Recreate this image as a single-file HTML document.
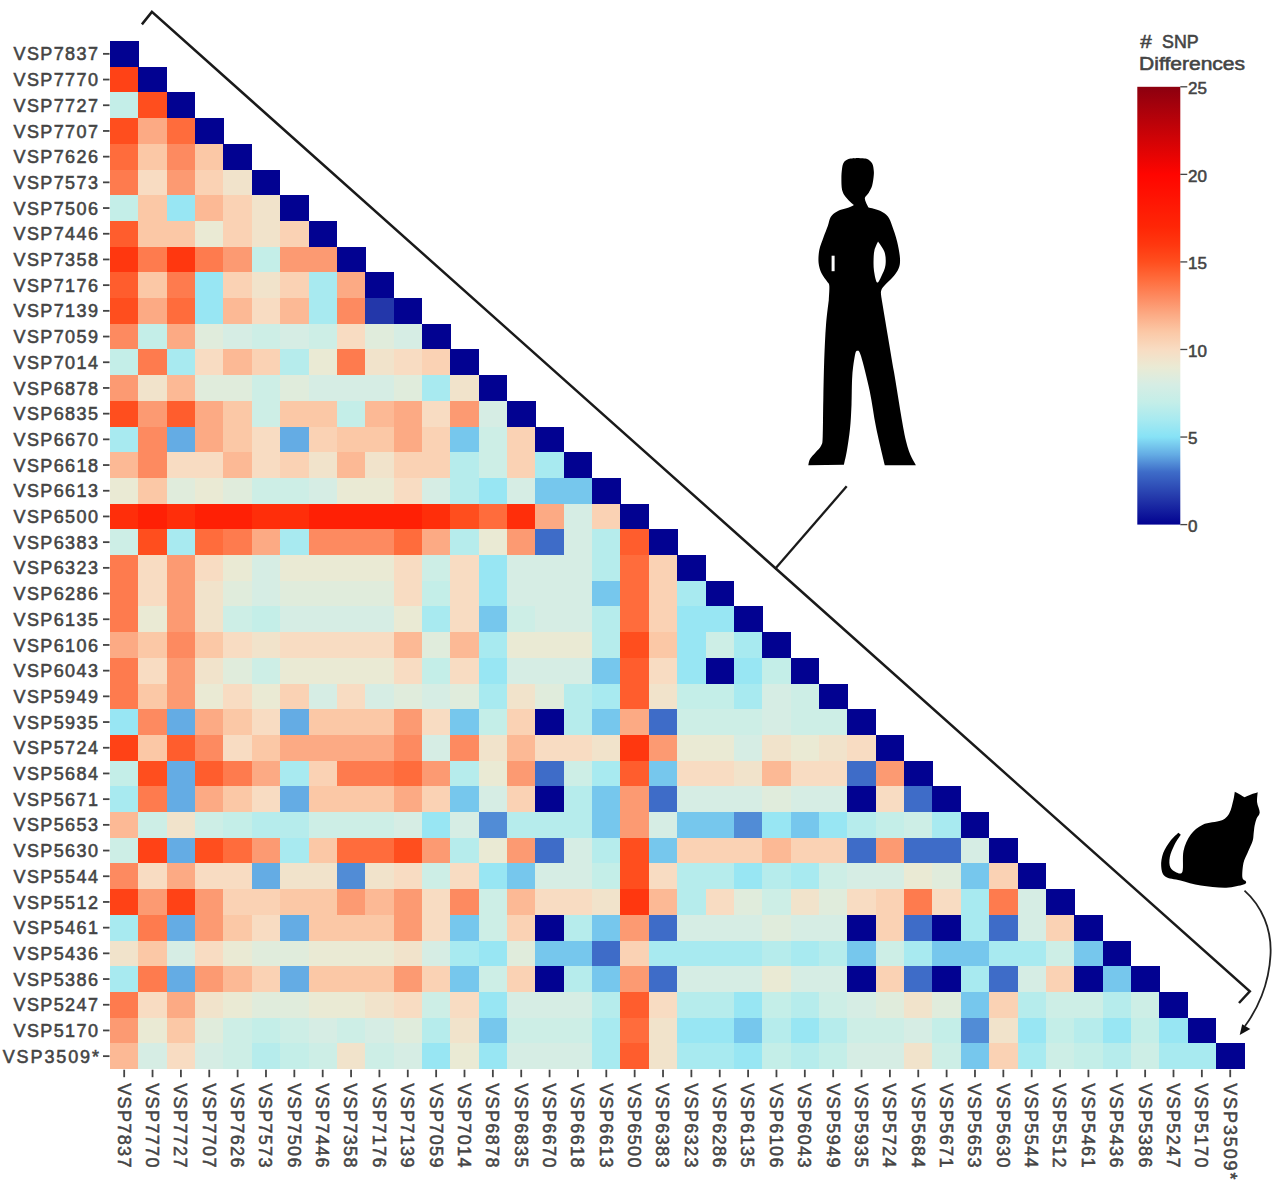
<!DOCTYPE html>
<html><head><meta charset="utf-8"><style>
html,body{margin:0;padding:0;background:#fff;width:1280px;height:1188px;overflow:hidden}
svg{display:block}
text{font-family:"Liberation Sans",sans-serif;fill:#444;stroke:#444;stroke-width:0.55px}
</style></head><body>
<svg width="1280" height="1188" viewBox="0 0 1280 1188">
<defs><linearGradient id="cb" x1="0" y1="1" x2="0" y2="0">
<stop offset="0.0000" stop-color="#020291"/>
<stop offset="0.0600" stop-color="#2337aa"/>
<stop offset="0.1200" stop-color="#3e6cc8"/>
<stop offset="0.1600" stop-color="#64ace4"/>
<stop offset="0.2000" stop-color="#87e2f6"/>
<stop offset="0.2400" stop-color="#a8eaf0"/>
<stop offset="0.2800" stop-color="#c4eee8"/>
<stop offset="0.3200" stop-color="#d6ede4"/>
<stop offset="0.3600" stop-color="#eaead4"/>
<stop offset="0.4000" stop-color="#f8dcc2"/>
<stop offset="0.4400" stop-color="#fbc8a6"/>
<stop offset="0.4800" stop-color="#fcaa84"/>
<stop offset="0.5200" stop-color="#fd8a60"/>
<stop offset="0.5600" stop-color="#ff6c3c"/>
<stop offset="0.6000" stop-color="#ff4e1e"/>
<stop offset="0.6400" stop-color="#ff370f"/>
<stop offset="0.6800" stop-color="#ff2606"/>
<stop offset="0.8000" stop-color="#ff0500"/>
<stop offset="1.0000" stop-color="#8c000f"/>
</linearGradient></defs>
<g shape-rendering="crispEdges">
<rect x="110.00" y="41.00" width="28.66" height="26.00" fill="#020291"/>
<rect x="110.00" y="66.70" width="28.66" height="26.00" fill="#ff4216"/>
<rect x="138.36" y="66.70" width="28.66" height="26.00" fill="#020291"/>
<rect x="110.00" y="92.40" width="28.66" height="26.00" fill="#c4eee8"/>
<rect x="138.36" y="92.40" width="28.66" height="26.00" fill="#ff4e1e"/>
<rect x="166.72" y="92.40" width="28.66" height="26.00" fill="#020291"/>
<rect x="110.00" y="118.10" width="28.66" height="26.00" fill="#ff4e1e"/>
<rect x="138.36" y="118.10" width="28.66" height="26.00" fill="#fcaa84"/>
<rect x="166.72" y="118.10" width="28.66" height="26.00" fill="#ff6c3c"/>
<rect x="195.08" y="118.10" width="28.66" height="26.00" fill="#020291"/>
<rect x="110.00" y="143.80" width="28.66" height="26.00" fill="#ff6c3c"/>
<rect x="138.36" y="143.80" width="28.66" height="26.00" fill="#fbc8a6"/>
<rect x="166.72" y="143.80" width="28.66" height="26.00" fill="#fd8a60"/>
<rect x="195.08" y="143.80" width="28.66" height="26.00" fill="#fbc8a6"/>
<rect x="223.44" y="143.80" width="28.66" height="26.00" fill="#020291"/>
<rect x="110.00" y="169.50" width="28.66" height="26.00" fill="#fe7b4e"/>
<rect x="138.36" y="169.50" width="28.66" height="26.00" fill="#f8dcc2"/>
<rect x="166.72" y="169.50" width="28.66" height="26.00" fill="#fc9a72"/>
<rect x="195.08" y="169.50" width="28.66" height="26.00" fill="#fad2b4"/>
<rect x="223.44" y="169.50" width="28.66" height="26.00" fill="#f1e3cb"/>
<rect x="251.80" y="169.50" width="28.66" height="26.00" fill="#020291"/>
<rect x="110.00" y="195.20" width="28.66" height="26.00" fill="#c4eee8"/>
<rect x="138.36" y="195.20" width="28.66" height="26.00" fill="#fbc8a6"/>
<rect x="166.72" y="195.20" width="28.66" height="26.00" fill="#98e6f3"/>
<rect x="195.08" y="195.20" width="28.66" height="26.00" fill="#fcb995"/>
<rect x="223.44" y="195.20" width="28.66" height="26.00" fill="#fad2b4"/>
<rect x="251.80" y="195.20" width="28.66" height="26.00" fill="#f1e3cb"/>
<rect x="280.16" y="195.20" width="28.66" height="26.00" fill="#020291"/>
<rect x="110.00" y="220.90" width="28.66" height="26.00" fill="#ff5d2d"/>
<rect x="138.36" y="220.90" width="28.66" height="26.00" fill="#fbc8a6"/>
<rect x="166.72" y="220.90" width="28.66" height="26.00" fill="#fbc8a6"/>
<rect x="195.08" y="220.90" width="28.66" height="26.00" fill="#eaead4"/>
<rect x="223.44" y="220.90" width="28.66" height="26.00" fill="#fad2b4"/>
<rect x="251.80" y="220.90" width="28.66" height="26.00" fill="#f1e3cb"/>
<rect x="280.16" y="220.90" width="28.66" height="26.00" fill="#fad2b4"/>
<rect x="308.52" y="220.90" width="28.66" height="26.00" fill="#020291"/>
<rect x="110.00" y="246.60" width="28.66" height="26.00" fill="#ff370f"/>
<rect x="138.36" y="246.60" width="28.66" height="26.00" fill="#fe7b4e"/>
<rect x="166.72" y="246.60" width="28.66" height="26.00" fill="#ff370f"/>
<rect x="195.08" y="246.60" width="28.66" height="26.00" fill="#fe7b4e"/>
<rect x="223.44" y="246.60" width="28.66" height="26.00" fill="#fc9a72"/>
<rect x="251.80" y="246.60" width="28.66" height="26.00" fill="#c4eee8"/>
<rect x="280.16" y="246.60" width="28.66" height="26.00" fill="#fc9a72"/>
<rect x="308.52" y="246.60" width="28.66" height="26.00" fill="#fc9a72"/>
<rect x="336.88" y="246.60" width="28.66" height="26.00" fill="#020291"/>
<rect x="110.00" y="272.30" width="28.66" height="26.00" fill="#ff5d2d"/>
<rect x="138.36" y="272.30" width="28.66" height="26.00" fill="#fbc8a6"/>
<rect x="166.72" y="272.30" width="28.66" height="26.00" fill="#fe7b4e"/>
<rect x="195.08" y="272.30" width="28.66" height="26.00" fill="#98e6f3"/>
<rect x="223.44" y="272.30" width="28.66" height="26.00" fill="#fad2b4"/>
<rect x="251.80" y="272.30" width="28.66" height="26.00" fill="#f1e3cb"/>
<rect x="280.16" y="272.30" width="28.66" height="26.00" fill="#fad2b4"/>
<rect x="308.52" y="272.30" width="28.66" height="26.00" fill="#a8eaf0"/>
<rect x="336.88" y="272.30" width="28.66" height="26.00" fill="#fcaa84"/>
<rect x="365.24" y="272.30" width="28.66" height="26.00" fill="#020291"/>
<rect x="110.00" y="298.00" width="28.66" height="26.00" fill="#ff4e1e"/>
<rect x="138.36" y="298.00" width="28.66" height="26.00" fill="#fcaa84"/>
<rect x="166.72" y="298.00" width="28.66" height="26.00" fill="#ff6c3c"/>
<rect x="195.08" y="298.00" width="28.66" height="26.00" fill="#98e6f3"/>
<rect x="223.44" y="298.00" width="28.66" height="26.00" fill="#fcb995"/>
<rect x="251.80" y="298.00" width="28.66" height="26.00" fill="#f8dcc2"/>
<rect x="280.16" y="298.00" width="28.66" height="26.00" fill="#fcb995"/>
<rect x="308.52" y="298.00" width="28.66" height="26.00" fill="#a8eaf0"/>
<rect x="336.88" y="298.00" width="28.66" height="26.00" fill="#fd8a60"/>
<rect x="365.24" y="298.00" width="28.66" height="26.00" fill="#2337aa"/>
<rect x="393.60" y="298.00" width="28.66" height="26.00" fill="#020291"/>
<rect x="110.00" y="323.70" width="28.66" height="26.00" fill="#fd8a60"/>
<rect x="138.36" y="323.70" width="28.66" height="26.00" fill="#c4eee8"/>
<rect x="166.72" y="323.70" width="28.66" height="26.00" fill="#fcaa84"/>
<rect x="195.08" y="323.70" width="28.66" height="26.00" fill="#e0ecdc"/>
<rect x="223.44" y="323.70" width="28.66" height="26.00" fill="#d6ede4"/>
<rect x="251.80" y="323.70" width="28.66" height="26.00" fill="#cdeee6"/>
<rect x="280.16" y="323.70" width="28.66" height="26.00" fill="#d6ede4"/>
<rect x="308.52" y="323.70" width="28.66" height="26.00" fill="#cdeee6"/>
<rect x="336.88" y="323.70" width="28.66" height="26.00" fill="#f8dcc2"/>
<rect x="365.24" y="323.70" width="28.66" height="26.00" fill="#e0ecdc"/>
<rect x="393.60" y="323.70" width="28.66" height="26.00" fill="#d6ede4"/>
<rect x="421.96" y="323.70" width="28.66" height="26.00" fill="#020291"/>
<rect x="110.00" y="349.40" width="28.66" height="26.00" fill="#c4eee8"/>
<rect x="138.36" y="349.40" width="28.66" height="26.00" fill="#fe7b4e"/>
<rect x="166.72" y="349.40" width="28.66" height="26.00" fill="#a8eaf0"/>
<rect x="195.08" y="349.40" width="28.66" height="26.00" fill="#f8dcc2"/>
<rect x="223.44" y="349.40" width="28.66" height="26.00" fill="#fcb995"/>
<rect x="251.80" y="349.40" width="28.66" height="26.00" fill="#fad2b4"/>
<rect x="280.16" y="349.40" width="28.66" height="26.00" fill="#b6ecec"/>
<rect x="308.52" y="349.40" width="28.66" height="26.00" fill="#eaead4"/>
<rect x="336.88" y="349.40" width="28.66" height="26.00" fill="#fe7b4e"/>
<rect x="365.24" y="349.40" width="28.66" height="26.00" fill="#f1e3cb"/>
<rect x="393.60" y="349.40" width="28.66" height="26.00" fill="#f8dcc2"/>
<rect x="421.96" y="349.40" width="28.66" height="26.00" fill="#fad2b4"/>
<rect x="450.32" y="349.40" width="28.66" height="26.00" fill="#020291"/>
<rect x="110.00" y="375.10" width="28.66" height="26.00" fill="#fc9a72"/>
<rect x="138.36" y="375.10" width="28.66" height="26.00" fill="#f1e3cb"/>
<rect x="166.72" y="375.10" width="28.66" height="26.00" fill="#fcb995"/>
<rect x="195.08" y="375.10" width="28.66" height="26.00" fill="#e0ecdc"/>
<rect x="223.44" y="375.10" width="28.66" height="26.00" fill="#e0ecdc"/>
<rect x="251.80" y="375.10" width="28.66" height="26.00" fill="#cdeee6"/>
<rect x="280.16" y="375.10" width="28.66" height="26.00" fill="#e0ecdc"/>
<rect x="308.52" y="375.10" width="28.66" height="26.00" fill="#d6ede4"/>
<rect x="336.88" y="375.10" width="28.66" height="26.00" fill="#d6ede4"/>
<rect x="365.24" y="375.10" width="28.66" height="26.00" fill="#d6ede4"/>
<rect x="393.60" y="375.10" width="28.66" height="26.00" fill="#e0ecdc"/>
<rect x="421.96" y="375.10" width="28.66" height="26.00" fill="#a8eaf0"/>
<rect x="450.32" y="375.10" width="28.66" height="26.00" fill="#f1e3cb"/>
<rect x="478.68" y="375.10" width="28.66" height="26.00" fill="#020291"/>
<rect x="110.00" y="400.80" width="28.66" height="26.00" fill="#ff4e1e"/>
<rect x="138.36" y="400.80" width="28.66" height="26.00" fill="#fc9a72"/>
<rect x="166.72" y="400.80" width="28.66" height="26.00" fill="#ff5d2d"/>
<rect x="195.08" y="400.80" width="28.66" height="26.00" fill="#fcaa84"/>
<rect x="223.44" y="400.80" width="28.66" height="26.00" fill="#fbc8a6"/>
<rect x="251.80" y="400.80" width="28.66" height="26.00" fill="#cdeee6"/>
<rect x="280.16" y="400.80" width="28.66" height="26.00" fill="#fbc8a6"/>
<rect x="308.52" y="400.80" width="28.66" height="26.00" fill="#fbc8a6"/>
<rect x="336.88" y="400.80" width="28.66" height="26.00" fill="#c4eee8"/>
<rect x="365.24" y="400.80" width="28.66" height="26.00" fill="#fcb995"/>
<rect x="393.60" y="400.80" width="28.66" height="26.00" fill="#fcaa84"/>
<rect x="421.96" y="400.80" width="28.66" height="26.00" fill="#f8dcc2"/>
<rect x="450.32" y="400.80" width="28.66" height="26.00" fill="#fc9a72"/>
<rect x="478.68" y="400.80" width="28.66" height="26.00" fill="#d6ede4"/>
<rect x="507.04" y="400.80" width="28.66" height="26.00" fill="#020291"/>
<rect x="110.00" y="426.50" width="28.66" height="26.00" fill="#a8eaf0"/>
<rect x="138.36" y="426.50" width="28.66" height="26.00" fill="#fd8a60"/>
<rect x="166.72" y="426.50" width="28.66" height="26.00" fill="#64ace4"/>
<rect x="195.08" y="426.50" width="28.66" height="26.00" fill="#fcaa84"/>
<rect x="223.44" y="426.50" width="28.66" height="26.00" fill="#fbc8a6"/>
<rect x="251.80" y="426.50" width="28.66" height="26.00" fill="#f8dcc2"/>
<rect x="280.16" y="426.50" width="28.66" height="26.00" fill="#64ace4"/>
<rect x="308.52" y="426.50" width="28.66" height="26.00" fill="#fad2b4"/>
<rect x="336.88" y="426.50" width="28.66" height="26.00" fill="#fbc8a6"/>
<rect x="365.24" y="426.50" width="28.66" height="26.00" fill="#fbc8a6"/>
<rect x="393.60" y="426.50" width="28.66" height="26.00" fill="#fcaa84"/>
<rect x="421.96" y="426.50" width="28.66" height="26.00" fill="#fad2b4"/>
<rect x="450.32" y="426.50" width="28.66" height="26.00" fill="#76c7ed"/>
<rect x="478.68" y="426.50" width="28.66" height="26.00" fill="#cdeee6"/>
<rect x="507.04" y="426.50" width="28.66" height="26.00" fill="#fad2b4"/>
<rect x="535.40" y="426.50" width="28.66" height="26.00" fill="#020291"/>
<rect x="110.00" y="452.20" width="28.66" height="26.00" fill="#fcb995"/>
<rect x="138.36" y="452.20" width="28.66" height="26.00" fill="#fd8a60"/>
<rect x="166.72" y="452.20" width="28.66" height="26.00" fill="#f8dcc2"/>
<rect x="195.08" y="452.20" width="28.66" height="26.00" fill="#f8dcc2"/>
<rect x="223.44" y="452.20" width="28.66" height="26.00" fill="#fcb995"/>
<rect x="251.80" y="452.20" width="28.66" height="26.00" fill="#f8dcc2"/>
<rect x="280.16" y="452.20" width="28.66" height="26.00" fill="#fad2b4"/>
<rect x="308.52" y="452.20" width="28.66" height="26.00" fill="#f1e3cb"/>
<rect x="336.88" y="452.20" width="28.66" height="26.00" fill="#fcb995"/>
<rect x="365.24" y="452.20" width="28.66" height="26.00" fill="#f1e3cb"/>
<rect x="393.60" y="452.20" width="28.66" height="26.00" fill="#fad2b4"/>
<rect x="421.96" y="452.20" width="28.66" height="26.00" fill="#fad2b4"/>
<rect x="450.32" y="452.20" width="28.66" height="26.00" fill="#b6ecec"/>
<rect x="478.68" y="452.20" width="28.66" height="26.00" fill="#cdeee6"/>
<rect x="507.04" y="452.20" width="28.66" height="26.00" fill="#fad2b4"/>
<rect x="535.40" y="452.20" width="28.66" height="26.00" fill="#a8eaf0"/>
<rect x="563.76" y="452.20" width="28.66" height="26.00" fill="#020291"/>
<rect x="110.00" y="477.90" width="28.66" height="26.00" fill="#eaead4"/>
<rect x="138.36" y="477.90" width="28.66" height="26.00" fill="#fbc8a6"/>
<rect x="166.72" y="477.90" width="28.66" height="26.00" fill="#e0ecdc"/>
<rect x="195.08" y="477.90" width="28.66" height="26.00" fill="#eaead4"/>
<rect x="223.44" y="477.90" width="28.66" height="26.00" fill="#e0ecdc"/>
<rect x="251.80" y="477.90" width="28.66" height="26.00" fill="#cdeee6"/>
<rect x="280.16" y="477.90" width="28.66" height="26.00" fill="#cdeee6"/>
<rect x="308.52" y="477.90" width="28.66" height="26.00" fill="#d6ede4"/>
<rect x="336.88" y="477.90" width="28.66" height="26.00" fill="#eaead4"/>
<rect x="365.24" y="477.90" width="28.66" height="26.00" fill="#eaead4"/>
<rect x="393.60" y="477.90" width="28.66" height="26.00" fill="#f8dcc2"/>
<rect x="421.96" y="477.90" width="28.66" height="26.00" fill="#d6ede4"/>
<rect x="450.32" y="477.90" width="28.66" height="26.00" fill="#b6ecec"/>
<rect x="478.68" y="477.90" width="28.66" height="26.00" fill="#98e6f3"/>
<rect x="507.04" y="477.90" width="28.66" height="26.00" fill="#d6ede4"/>
<rect x="535.40" y="477.90" width="28.66" height="26.00" fill="#76c7ed"/>
<rect x="563.76" y="477.90" width="28.66" height="26.00" fill="#76c7ed"/>
<rect x="592.12" y="477.90" width="28.66" height="26.00" fill="#020291"/>
<rect x="110.00" y="503.60" width="28.66" height="26.00" fill="#ff2e0a"/>
<rect x="138.36" y="503.60" width="28.66" height="26.00" fill="#ff2005"/>
<rect x="166.72" y="503.60" width="28.66" height="26.00" fill="#ff2e0a"/>
<rect x="195.08" y="503.60" width="28.66" height="26.00" fill="#ff2005"/>
<rect x="223.44" y="503.60" width="28.66" height="26.00" fill="#ff2005"/>
<rect x="251.80" y="503.60" width="28.66" height="26.00" fill="#ff2e0a"/>
<rect x="280.16" y="503.60" width="28.66" height="26.00" fill="#ff2e0a"/>
<rect x="308.52" y="503.60" width="28.66" height="26.00" fill="#ff2005"/>
<rect x="336.88" y="503.60" width="28.66" height="26.00" fill="#ff2005"/>
<rect x="365.24" y="503.60" width="28.66" height="26.00" fill="#ff2005"/>
<rect x="393.60" y="503.60" width="28.66" height="26.00" fill="#ff2005"/>
<rect x="421.96" y="503.60" width="28.66" height="26.00" fill="#ff2e0a"/>
<rect x="450.32" y="503.60" width="28.66" height="26.00" fill="#ff4e1e"/>
<rect x="478.68" y="503.60" width="28.66" height="26.00" fill="#ff6c3c"/>
<rect x="507.04" y="503.60" width="28.66" height="26.00" fill="#ff2e0a"/>
<rect x="535.40" y="503.60" width="28.66" height="26.00" fill="#fcaa84"/>
<rect x="563.76" y="503.60" width="28.66" height="26.00" fill="#d6ede4"/>
<rect x="592.12" y="503.60" width="28.66" height="26.00" fill="#fad2b4"/>
<rect x="620.48" y="503.60" width="28.66" height="26.00" fill="#020291"/>
<rect x="110.00" y="529.30" width="28.66" height="26.00" fill="#cdeee6"/>
<rect x="138.36" y="529.30" width="28.66" height="26.00" fill="#ff4e1e"/>
<rect x="166.72" y="529.30" width="28.66" height="26.00" fill="#a8eaf0"/>
<rect x="195.08" y="529.30" width="28.66" height="26.00" fill="#ff6c3c"/>
<rect x="223.44" y="529.30" width="28.66" height="26.00" fill="#fe7b4e"/>
<rect x="251.80" y="529.30" width="28.66" height="26.00" fill="#fcaa84"/>
<rect x="280.16" y="529.30" width="28.66" height="26.00" fill="#a8eaf0"/>
<rect x="308.52" y="529.30" width="28.66" height="26.00" fill="#fd8a60"/>
<rect x="336.88" y="529.30" width="28.66" height="26.00" fill="#fd8a60"/>
<rect x="365.24" y="529.30" width="28.66" height="26.00" fill="#fd8a60"/>
<rect x="393.60" y="529.30" width="28.66" height="26.00" fill="#ff6c3c"/>
<rect x="421.96" y="529.30" width="28.66" height="26.00" fill="#fcaa84"/>
<rect x="450.32" y="529.30" width="28.66" height="26.00" fill="#b6ecec"/>
<rect x="478.68" y="529.30" width="28.66" height="26.00" fill="#eaead4"/>
<rect x="507.04" y="529.30" width="28.66" height="26.00" fill="#fc9a72"/>
<rect x="535.40" y="529.30" width="28.66" height="26.00" fill="#3e6cc8"/>
<rect x="563.76" y="529.30" width="28.66" height="26.00" fill="#d6ede4"/>
<rect x="592.12" y="529.30" width="28.66" height="26.00" fill="#b6ecec"/>
<rect x="620.48" y="529.30" width="28.66" height="26.00" fill="#ff5d2d"/>
<rect x="648.84" y="529.30" width="28.66" height="26.00" fill="#020291"/>
<rect x="110.00" y="555.00" width="28.66" height="26.00" fill="#fe7b4e"/>
<rect x="138.36" y="555.00" width="28.66" height="26.00" fill="#f8dcc2"/>
<rect x="166.72" y="555.00" width="28.66" height="26.00" fill="#fc9a72"/>
<rect x="195.08" y="555.00" width="28.66" height="26.00" fill="#f8dcc2"/>
<rect x="223.44" y="555.00" width="28.66" height="26.00" fill="#eaead4"/>
<rect x="251.80" y="555.00" width="28.66" height="26.00" fill="#d6ede4"/>
<rect x="280.16" y="555.00" width="28.66" height="26.00" fill="#eaead4"/>
<rect x="308.52" y="555.00" width="28.66" height="26.00" fill="#eaead4"/>
<rect x="336.88" y="555.00" width="28.66" height="26.00" fill="#eaead4"/>
<rect x="365.24" y="555.00" width="28.66" height="26.00" fill="#eaead4"/>
<rect x="393.60" y="555.00" width="28.66" height="26.00" fill="#f8dcc2"/>
<rect x="421.96" y="555.00" width="28.66" height="26.00" fill="#cdeee6"/>
<rect x="450.32" y="555.00" width="28.66" height="26.00" fill="#f8dcc2"/>
<rect x="478.68" y="555.00" width="28.66" height="26.00" fill="#98e6f3"/>
<rect x="507.04" y="555.00" width="28.66" height="26.00" fill="#d6ede4"/>
<rect x="535.40" y="555.00" width="28.66" height="26.00" fill="#d6ede4"/>
<rect x="563.76" y="555.00" width="28.66" height="26.00" fill="#d6ede4"/>
<rect x="592.12" y="555.00" width="28.66" height="26.00" fill="#b6ecec"/>
<rect x="620.48" y="555.00" width="28.66" height="26.00" fill="#ff6c3c"/>
<rect x="648.84" y="555.00" width="28.66" height="26.00" fill="#fad2b4"/>
<rect x="677.20" y="555.00" width="28.66" height="26.00" fill="#020291"/>
<rect x="110.00" y="580.70" width="28.66" height="26.00" fill="#fe7b4e"/>
<rect x="138.36" y="580.70" width="28.66" height="26.00" fill="#f8dcc2"/>
<rect x="166.72" y="580.70" width="28.66" height="26.00" fill="#fc9a72"/>
<rect x="195.08" y="580.70" width="28.66" height="26.00" fill="#f1e3cb"/>
<rect x="223.44" y="580.70" width="28.66" height="26.00" fill="#e0ecdc"/>
<rect x="251.80" y="580.70" width="28.66" height="26.00" fill="#d6ede4"/>
<rect x="280.16" y="580.70" width="28.66" height="26.00" fill="#e0ecdc"/>
<rect x="308.52" y="580.70" width="28.66" height="26.00" fill="#e0ecdc"/>
<rect x="336.88" y="580.70" width="28.66" height="26.00" fill="#e0ecdc"/>
<rect x="365.24" y="580.70" width="28.66" height="26.00" fill="#e0ecdc"/>
<rect x="393.60" y="580.70" width="28.66" height="26.00" fill="#f8dcc2"/>
<rect x="421.96" y="580.70" width="28.66" height="26.00" fill="#c4eee8"/>
<rect x="450.32" y="580.70" width="28.66" height="26.00" fill="#f8dcc2"/>
<rect x="478.68" y="580.70" width="28.66" height="26.00" fill="#98e6f3"/>
<rect x="507.04" y="580.70" width="28.66" height="26.00" fill="#d6ede4"/>
<rect x="535.40" y="580.70" width="28.66" height="26.00" fill="#d6ede4"/>
<rect x="563.76" y="580.70" width="28.66" height="26.00" fill="#d6ede4"/>
<rect x="592.12" y="580.70" width="28.66" height="26.00" fill="#76c7ed"/>
<rect x="620.48" y="580.70" width="28.66" height="26.00" fill="#ff6c3c"/>
<rect x="648.84" y="580.70" width="28.66" height="26.00" fill="#fad2b4"/>
<rect x="677.20" y="580.70" width="28.66" height="26.00" fill="#a8eaf0"/>
<rect x="705.56" y="580.70" width="28.66" height="26.00" fill="#020291"/>
<rect x="110.00" y="606.40" width="28.66" height="26.00" fill="#fe7b4e"/>
<rect x="138.36" y="606.40" width="28.66" height="26.00" fill="#eaead4"/>
<rect x="166.72" y="606.40" width="28.66" height="26.00" fill="#fc9a72"/>
<rect x="195.08" y="606.40" width="28.66" height="26.00" fill="#f1e3cb"/>
<rect x="223.44" y="606.40" width="28.66" height="26.00" fill="#cdeee6"/>
<rect x="251.80" y="606.40" width="28.66" height="26.00" fill="#c4eee8"/>
<rect x="280.16" y="606.40" width="28.66" height="26.00" fill="#d6ede4"/>
<rect x="308.52" y="606.40" width="28.66" height="26.00" fill="#d6ede4"/>
<rect x="336.88" y="606.40" width="28.66" height="26.00" fill="#d6ede4"/>
<rect x="365.24" y="606.40" width="28.66" height="26.00" fill="#d6ede4"/>
<rect x="393.60" y="606.40" width="28.66" height="26.00" fill="#eaead4"/>
<rect x="421.96" y="606.40" width="28.66" height="26.00" fill="#a8eaf0"/>
<rect x="450.32" y="606.40" width="28.66" height="26.00" fill="#f8dcc2"/>
<rect x="478.68" y="606.40" width="28.66" height="26.00" fill="#76c7ed"/>
<rect x="507.04" y="606.40" width="28.66" height="26.00" fill="#cdeee6"/>
<rect x="535.40" y="606.40" width="28.66" height="26.00" fill="#d6ede4"/>
<rect x="563.76" y="606.40" width="28.66" height="26.00" fill="#d6ede4"/>
<rect x="592.12" y="606.40" width="28.66" height="26.00" fill="#b6ecec"/>
<rect x="620.48" y="606.40" width="28.66" height="26.00" fill="#ff6c3c"/>
<rect x="648.84" y="606.40" width="28.66" height="26.00" fill="#fad2b4"/>
<rect x="677.20" y="606.40" width="28.66" height="26.00" fill="#98e6f3"/>
<rect x="705.56" y="606.40" width="28.66" height="26.00" fill="#98e6f3"/>
<rect x="733.92" y="606.40" width="28.66" height="26.00" fill="#020291"/>
<rect x="110.00" y="632.10" width="28.66" height="26.00" fill="#fcaa84"/>
<rect x="138.36" y="632.10" width="28.66" height="26.00" fill="#fbc8a6"/>
<rect x="166.72" y="632.10" width="28.66" height="26.00" fill="#fd8a60"/>
<rect x="195.08" y="632.10" width="28.66" height="26.00" fill="#fbc8a6"/>
<rect x="223.44" y="632.10" width="28.66" height="26.00" fill="#f8dcc2"/>
<rect x="251.80" y="632.10" width="28.66" height="26.00" fill="#f1e3cb"/>
<rect x="280.16" y="632.10" width="28.66" height="26.00" fill="#f8dcc2"/>
<rect x="308.52" y="632.10" width="28.66" height="26.00" fill="#f8dcc2"/>
<rect x="336.88" y="632.10" width="28.66" height="26.00" fill="#f8dcc2"/>
<rect x="365.24" y="632.10" width="28.66" height="26.00" fill="#f8dcc2"/>
<rect x="393.60" y="632.10" width="28.66" height="26.00" fill="#fcb995"/>
<rect x="421.96" y="632.10" width="28.66" height="26.00" fill="#e0ecdc"/>
<rect x="450.32" y="632.10" width="28.66" height="26.00" fill="#fcb995"/>
<rect x="478.68" y="632.10" width="28.66" height="26.00" fill="#a8eaf0"/>
<rect x="507.04" y="632.10" width="28.66" height="26.00" fill="#eaead4"/>
<rect x="535.40" y="632.10" width="28.66" height="26.00" fill="#eaead4"/>
<rect x="563.76" y="632.10" width="28.66" height="26.00" fill="#eaead4"/>
<rect x="592.12" y="632.10" width="28.66" height="26.00" fill="#b6ecec"/>
<rect x="620.48" y="632.10" width="28.66" height="26.00" fill="#ff4e1e"/>
<rect x="648.84" y="632.10" width="28.66" height="26.00" fill="#fbc8a6"/>
<rect x="677.20" y="632.10" width="28.66" height="26.00" fill="#98e6f3"/>
<rect x="705.56" y="632.10" width="28.66" height="26.00" fill="#cdeee6"/>
<rect x="733.92" y="632.10" width="28.66" height="26.00" fill="#a8eaf0"/>
<rect x="762.28" y="632.10" width="28.66" height="26.00" fill="#020291"/>
<rect x="110.00" y="657.80" width="28.66" height="26.00" fill="#fe7b4e"/>
<rect x="138.36" y="657.80" width="28.66" height="26.00" fill="#f8dcc2"/>
<rect x="166.72" y="657.80" width="28.66" height="26.00" fill="#fc9a72"/>
<rect x="195.08" y="657.80" width="28.66" height="26.00" fill="#f1e3cb"/>
<rect x="223.44" y="657.80" width="28.66" height="26.00" fill="#e0ecdc"/>
<rect x="251.80" y="657.80" width="28.66" height="26.00" fill="#cdeee6"/>
<rect x="280.16" y="657.80" width="28.66" height="26.00" fill="#eaead4"/>
<rect x="308.52" y="657.80" width="28.66" height="26.00" fill="#eaead4"/>
<rect x="336.88" y="657.80" width="28.66" height="26.00" fill="#eaead4"/>
<rect x="365.24" y="657.80" width="28.66" height="26.00" fill="#eaead4"/>
<rect x="393.60" y="657.80" width="28.66" height="26.00" fill="#f8dcc2"/>
<rect x="421.96" y="657.80" width="28.66" height="26.00" fill="#c4eee8"/>
<rect x="450.32" y="657.80" width="28.66" height="26.00" fill="#f8dcc2"/>
<rect x="478.68" y="657.80" width="28.66" height="26.00" fill="#98e6f3"/>
<rect x="507.04" y="657.80" width="28.66" height="26.00" fill="#d6ede4"/>
<rect x="535.40" y="657.80" width="28.66" height="26.00" fill="#d6ede4"/>
<rect x="563.76" y="657.80" width="28.66" height="26.00" fill="#d6ede4"/>
<rect x="592.12" y="657.80" width="28.66" height="26.00" fill="#76c7ed"/>
<rect x="620.48" y="657.80" width="28.66" height="26.00" fill="#ff5d2d"/>
<rect x="648.84" y="657.80" width="28.66" height="26.00" fill="#f8dcc2"/>
<rect x="677.20" y="657.80" width="28.66" height="26.00" fill="#98e6f3"/>
<rect x="705.56" y="657.80" width="28.66" height="26.00" fill="#020291"/>
<rect x="733.92" y="657.80" width="28.66" height="26.00" fill="#98e6f3"/>
<rect x="762.28" y="657.80" width="28.66" height="26.00" fill="#c4eee8"/>
<rect x="790.64" y="657.80" width="28.66" height="26.00" fill="#020291"/>
<rect x="110.00" y="683.50" width="28.66" height="26.00" fill="#fe7b4e"/>
<rect x="138.36" y="683.50" width="28.66" height="26.00" fill="#fbc8a6"/>
<rect x="166.72" y="683.50" width="28.66" height="26.00" fill="#fc9a72"/>
<rect x="195.08" y="683.50" width="28.66" height="26.00" fill="#eaead4"/>
<rect x="223.44" y="683.50" width="28.66" height="26.00" fill="#f8dcc2"/>
<rect x="251.80" y="683.50" width="28.66" height="26.00" fill="#eaead4"/>
<rect x="280.16" y="683.50" width="28.66" height="26.00" fill="#fad2b4"/>
<rect x="308.52" y="683.50" width="28.66" height="26.00" fill="#d6ede4"/>
<rect x="336.88" y="683.50" width="28.66" height="26.00" fill="#f8dcc2"/>
<rect x="365.24" y="683.50" width="28.66" height="26.00" fill="#d6ede4"/>
<rect x="393.60" y="683.50" width="28.66" height="26.00" fill="#e0ecdc"/>
<rect x="421.96" y="683.50" width="28.66" height="26.00" fill="#d6ede4"/>
<rect x="450.32" y="683.50" width="28.66" height="26.00" fill="#e0ecdc"/>
<rect x="478.68" y="683.50" width="28.66" height="26.00" fill="#a8eaf0"/>
<rect x="507.04" y="683.50" width="28.66" height="26.00" fill="#f1e3cb"/>
<rect x="535.40" y="683.50" width="28.66" height="26.00" fill="#e0ecdc"/>
<rect x="563.76" y="683.50" width="28.66" height="26.00" fill="#b6ecec"/>
<rect x="592.12" y="683.50" width="28.66" height="26.00" fill="#a8eaf0"/>
<rect x="620.48" y="683.50" width="28.66" height="26.00" fill="#ff5d2d"/>
<rect x="648.84" y="683.50" width="28.66" height="26.00" fill="#f1e3cb"/>
<rect x="677.20" y="683.50" width="28.66" height="26.00" fill="#c4eee8"/>
<rect x="705.56" y="683.50" width="28.66" height="26.00" fill="#c4eee8"/>
<rect x="733.92" y="683.50" width="28.66" height="26.00" fill="#a8eaf0"/>
<rect x="762.28" y="683.50" width="28.66" height="26.00" fill="#d6ede4"/>
<rect x="790.64" y="683.50" width="28.66" height="26.00" fill="#cdeee6"/>
<rect x="819.00" y="683.50" width="28.66" height="26.00" fill="#020291"/>
<rect x="110.00" y="709.20" width="28.66" height="26.00" fill="#98e6f3"/>
<rect x="138.36" y="709.20" width="28.66" height="26.00" fill="#fd8a60"/>
<rect x="166.72" y="709.20" width="28.66" height="26.00" fill="#64ace4"/>
<rect x="195.08" y="709.20" width="28.66" height="26.00" fill="#fcaa84"/>
<rect x="223.44" y="709.20" width="28.66" height="26.00" fill="#fbc8a6"/>
<rect x="251.80" y="709.20" width="28.66" height="26.00" fill="#f8dcc2"/>
<rect x="280.16" y="709.20" width="28.66" height="26.00" fill="#64ace4"/>
<rect x="308.52" y="709.20" width="28.66" height="26.00" fill="#fbc8a6"/>
<rect x="336.88" y="709.20" width="28.66" height="26.00" fill="#fbc8a6"/>
<rect x="365.24" y="709.20" width="28.66" height="26.00" fill="#fbc8a6"/>
<rect x="393.60" y="709.20" width="28.66" height="26.00" fill="#fc9a72"/>
<rect x="421.96" y="709.20" width="28.66" height="26.00" fill="#f8dcc2"/>
<rect x="450.32" y="709.20" width="28.66" height="26.00" fill="#76c7ed"/>
<rect x="478.68" y="709.20" width="28.66" height="26.00" fill="#c4eee8"/>
<rect x="507.04" y="709.20" width="28.66" height="26.00" fill="#fad2b4"/>
<rect x="535.40" y="709.20" width="28.66" height="26.00" fill="#020291"/>
<rect x="563.76" y="709.20" width="28.66" height="26.00" fill="#b6ecec"/>
<rect x="592.12" y="709.20" width="28.66" height="26.00" fill="#76c7ed"/>
<rect x="620.48" y="709.20" width="28.66" height="26.00" fill="#fcaa84"/>
<rect x="648.84" y="709.20" width="28.66" height="26.00" fill="#3e6cc8"/>
<rect x="677.20" y="709.20" width="28.66" height="26.00" fill="#cdeee6"/>
<rect x="705.56" y="709.20" width="28.66" height="26.00" fill="#cdeee6"/>
<rect x="733.92" y="709.20" width="28.66" height="26.00" fill="#cdeee6"/>
<rect x="762.28" y="709.20" width="28.66" height="26.00" fill="#d6ede4"/>
<rect x="790.64" y="709.20" width="28.66" height="26.00" fill="#cdeee6"/>
<rect x="819.00" y="709.20" width="28.66" height="26.00" fill="#cdeee6"/>
<rect x="847.36" y="709.20" width="28.66" height="26.00" fill="#020291"/>
<rect x="110.00" y="734.90" width="28.66" height="26.00" fill="#ff4216"/>
<rect x="138.36" y="734.90" width="28.66" height="26.00" fill="#fbc8a6"/>
<rect x="166.72" y="734.90" width="28.66" height="26.00" fill="#ff5d2d"/>
<rect x="195.08" y="734.90" width="28.66" height="26.00" fill="#fd8a60"/>
<rect x="223.44" y="734.90" width="28.66" height="26.00" fill="#f8dcc2"/>
<rect x="251.80" y="734.90" width="28.66" height="26.00" fill="#fbc8a6"/>
<rect x="280.16" y="734.90" width="28.66" height="26.00" fill="#fcaa84"/>
<rect x="308.52" y="734.90" width="28.66" height="26.00" fill="#fcaa84"/>
<rect x="336.88" y="734.90" width="28.66" height="26.00" fill="#fcaa84"/>
<rect x="365.24" y="734.90" width="28.66" height="26.00" fill="#fcaa84"/>
<rect x="393.60" y="734.90" width="28.66" height="26.00" fill="#fd8a60"/>
<rect x="421.96" y="734.90" width="28.66" height="26.00" fill="#d6ede4"/>
<rect x="450.32" y="734.90" width="28.66" height="26.00" fill="#fd8a60"/>
<rect x="478.68" y="734.90" width="28.66" height="26.00" fill="#f1e3cb"/>
<rect x="507.04" y="734.90" width="28.66" height="26.00" fill="#fcb995"/>
<rect x="535.40" y="734.90" width="28.66" height="26.00" fill="#f8dcc2"/>
<rect x="563.76" y="734.90" width="28.66" height="26.00" fill="#f8dcc2"/>
<rect x="592.12" y="734.90" width="28.66" height="26.00" fill="#f1e3cb"/>
<rect x="620.48" y="734.90" width="28.66" height="26.00" fill="#ff370f"/>
<rect x="648.84" y="734.90" width="28.66" height="26.00" fill="#fc9a72"/>
<rect x="677.20" y="734.90" width="28.66" height="26.00" fill="#eaead4"/>
<rect x="705.56" y="734.90" width="28.66" height="26.00" fill="#eaead4"/>
<rect x="733.92" y="734.90" width="28.66" height="26.00" fill="#d6ede4"/>
<rect x="762.28" y="734.90" width="28.66" height="26.00" fill="#f1e3cb"/>
<rect x="790.64" y="734.90" width="28.66" height="26.00" fill="#eaead4"/>
<rect x="819.00" y="734.90" width="28.66" height="26.00" fill="#f1e3cb"/>
<rect x="847.36" y="734.90" width="28.66" height="26.00" fill="#f8dcc2"/>
<rect x="875.72" y="734.90" width="28.66" height="26.00" fill="#020291"/>
<rect x="110.00" y="760.60" width="28.66" height="26.00" fill="#c4eee8"/>
<rect x="138.36" y="760.60" width="28.66" height="26.00" fill="#ff4e1e"/>
<rect x="166.72" y="760.60" width="28.66" height="26.00" fill="#64ace4"/>
<rect x="195.08" y="760.60" width="28.66" height="26.00" fill="#ff5d2d"/>
<rect x="223.44" y="760.60" width="28.66" height="26.00" fill="#fe7b4e"/>
<rect x="251.80" y="760.60" width="28.66" height="26.00" fill="#fcaa84"/>
<rect x="280.16" y="760.60" width="28.66" height="26.00" fill="#a8eaf0"/>
<rect x="308.52" y="760.60" width="28.66" height="26.00" fill="#fad2b4"/>
<rect x="336.88" y="760.60" width="28.66" height="26.00" fill="#fe7b4e"/>
<rect x="365.24" y="760.60" width="28.66" height="26.00" fill="#fe7b4e"/>
<rect x="393.60" y="760.60" width="28.66" height="26.00" fill="#ff6c3c"/>
<rect x="421.96" y="760.60" width="28.66" height="26.00" fill="#fc9a72"/>
<rect x="450.32" y="760.60" width="28.66" height="26.00" fill="#b6ecec"/>
<rect x="478.68" y="760.60" width="28.66" height="26.00" fill="#eaead4"/>
<rect x="507.04" y="760.60" width="28.66" height="26.00" fill="#fc9a72"/>
<rect x="535.40" y="760.60" width="28.66" height="26.00" fill="#3e6cc8"/>
<rect x="563.76" y="760.60" width="28.66" height="26.00" fill="#cdeee6"/>
<rect x="592.12" y="760.60" width="28.66" height="26.00" fill="#a8eaf0"/>
<rect x="620.48" y="760.60" width="28.66" height="26.00" fill="#ff5d2d"/>
<rect x="648.84" y="760.60" width="28.66" height="26.00" fill="#76c7ed"/>
<rect x="677.20" y="760.60" width="28.66" height="26.00" fill="#f8dcc2"/>
<rect x="705.56" y="760.60" width="28.66" height="26.00" fill="#f8dcc2"/>
<rect x="733.92" y="760.60" width="28.66" height="26.00" fill="#f1e3cb"/>
<rect x="762.28" y="760.60" width="28.66" height="26.00" fill="#fcb995"/>
<rect x="790.64" y="760.60" width="28.66" height="26.00" fill="#f8dcc2"/>
<rect x="819.00" y="760.60" width="28.66" height="26.00" fill="#f8dcc2"/>
<rect x="847.36" y="760.60" width="28.66" height="26.00" fill="#3e6cc8"/>
<rect x="875.72" y="760.60" width="28.66" height="26.00" fill="#fc9a72"/>
<rect x="904.08" y="760.60" width="28.66" height="26.00" fill="#020291"/>
<rect x="110.00" y="786.30" width="28.66" height="26.00" fill="#a8eaf0"/>
<rect x="138.36" y="786.30" width="28.66" height="26.00" fill="#fe7b4e"/>
<rect x="166.72" y="786.30" width="28.66" height="26.00" fill="#64ace4"/>
<rect x="195.08" y="786.30" width="28.66" height="26.00" fill="#fcaa84"/>
<rect x="223.44" y="786.30" width="28.66" height="26.00" fill="#fbc8a6"/>
<rect x="251.80" y="786.30" width="28.66" height="26.00" fill="#f8dcc2"/>
<rect x="280.16" y="786.30" width="28.66" height="26.00" fill="#64ace4"/>
<rect x="308.52" y="786.30" width="28.66" height="26.00" fill="#fbc8a6"/>
<rect x="336.88" y="786.30" width="28.66" height="26.00" fill="#fbc8a6"/>
<rect x="365.24" y="786.30" width="28.66" height="26.00" fill="#fbc8a6"/>
<rect x="393.60" y="786.30" width="28.66" height="26.00" fill="#fcaa84"/>
<rect x="421.96" y="786.30" width="28.66" height="26.00" fill="#fad2b4"/>
<rect x="450.32" y="786.30" width="28.66" height="26.00" fill="#76c7ed"/>
<rect x="478.68" y="786.30" width="28.66" height="26.00" fill="#d6ede4"/>
<rect x="507.04" y="786.30" width="28.66" height="26.00" fill="#fad2b4"/>
<rect x="535.40" y="786.30" width="28.66" height="26.00" fill="#020291"/>
<rect x="563.76" y="786.30" width="28.66" height="26.00" fill="#b6ecec"/>
<rect x="592.12" y="786.30" width="28.66" height="26.00" fill="#76c7ed"/>
<rect x="620.48" y="786.30" width="28.66" height="26.00" fill="#fc9a72"/>
<rect x="648.84" y="786.30" width="28.66" height="26.00" fill="#3e6cc8"/>
<rect x="677.20" y="786.30" width="28.66" height="26.00" fill="#d6ede4"/>
<rect x="705.56" y="786.30" width="28.66" height="26.00" fill="#d6ede4"/>
<rect x="733.92" y="786.30" width="28.66" height="26.00" fill="#d6ede4"/>
<rect x="762.28" y="786.30" width="28.66" height="26.00" fill="#e0ecdc"/>
<rect x="790.64" y="786.30" width="28.66" height="26.00" fill="#d6ede4"/>
<rect x="819.00" y="786.30" width="28.66" height="26.00" fill="#d6ede4"/>
<rect x="847.36" y="786.30" width="28.66" height="26.00" fill="#020291"/>
<rect x="875.72" y="786.30" width="28.66" height="26.00" fill="#f8dcc2"/>
<rect x="904.08" y="786.30" width="28.66" height="26.00" fill="#3e6cc8"/>
<rect x="932.44" y="786.30" width="28.66" height="26.00" fill="#020291"/>
<rect x="110.00" y="812.00" width="28.66" height="26.00" fill="#fcb995"/>
<rect x="138.36" y="812.00" width="28.66" height="26.00" fill="#cdeee6"/>
<rect x="166.72" y="812.00" width="28.66" height="26.00" fill="#f1e3cb"/>
<rect x="195.08" y="812.00" width="28.66" height="26.00" fill="#cdeee6"/>
<rect x="223.44" y="812.00" width="28.66" height="26.00" fill="#c4eee8"/>
<rect x="251.80" y="812.00" width="28.66" height="26.00" fill="#b6ecec"/>
<rect x="280.16" y="812.00" width="28.66" height="26.00" fill="#b6ecec"/>
<rect x="308.52" y="812.00" width="28.66" height="26.00" fill="#cdeee6"/>
<rect x="336.88" y="812.00" width="28.66" height="26.00" fill="#cdeee6"/>
<rect x="365.24" y="812.00" width="28.66" height="26.00" fill="#cdeee6"/>
<rect x="393.60" y="812.00" width="28.66" height="26.00" fill="#d6ede4"/>
<rect x="421.96" y="812.00" width="28.66" height="26.00" fill="#98e6f3"/>
<rect x="450.32" y="812.00" width="28.66" height="26.00" fill="#d6ede4"/>
<rect x="478.68" y="812.00" width="28.66" height="26.00" fill="#518cd6"/>
<rect x="507.04" y="812.00" width="28.66" height="26.00" fill="#b6ecec"/>
<rect x="535.40" y="812.00" width="28.66" height="26.00" fill="#b6ecec"/>
<rect x="563.76" y="812.00" width="28.66" height="26.00" fill="#b6ecec"/>
<rect x="592.12" y="812.00" width="28.66" height="26.00" fill="#76c7ed"/>
<rect x="620.48" y="812.00" width="28.66" height="26.00" fill="#fc9a72"/>
<rect x="648.84" y="812.00" width="28.66" height="26.00" fill="#d6ede4"/>
<rect x="677.20" y="812.00" width="28.66" height="26.00" fill="#76c7ed"/>
<rect x="705.56" y="812.00" width="28.66" height="26.00" fill="#76c7ed"/>
<rect x="733.92" y="812.00" width="28.66" height="26.00" fill="#518cd6"/>
<rect x="762.28" y="812.00" width="28.66" height="26.00" fill="#98e6f3"/>
<rect x="790.64" y="812.00" width="28.66" height="26.00" fill="#76c7ed"/>
<rect x="819.00" y="812.00" width="28.66" height="26.00" fill="#98e6f3"/>
<rect x="847.36" y="812.00" width="28.66" height="26.00" fill="#b6ecec"/>
<rect x="875.72" y="812.00" width="28.66" height="26.00" fill="#c4eee8"/>
<rect x="904.08" y="812.00" width="28.66" height="26.00" fill="#cdeee6"/>
<rect x="932.44" y="812.00" width="28.66" height="26.00" fill="#a8eaf0"/>
<rect x="960.80" y="812.00" width="28.66" height="26.00" fill="#020291"/>
<rect x="110.00" y="837.70" width="28.66" height="26.00" fill="#cdeee6"/>
<rect x="138.36" y="837.70" width="28.66" height="26.00" fill="#ff4216"/>
<rect x="166.72" y="837.70" width="28.66" height="26.00" fill="#64ace4"/>
<rect x="195.08" y="837.70" width="28.66" height="26.00" fill="#ff4e1e"/>
<rect x="223.44" y="837.70" width="28.66" height="26.00" fill="#ff6c3c"/>
<rect x="251.80" y="837.70" width="28.66" height="26.00" fill="#fc9a72"/>
<rect x="280.16" y="837.70" width="28.66" height="26.00" fill="#a8eaf0"/>
<rect x="308.52" y="837.70" width="28.66" height="26.00" fill="#fbc8a6"/>
<rect x="336.88" y="837.70" width="28.66" height="26.00" fill="#ff6c3c"/>
<rect x="365.24" y="837.70" width="28.66" height="26.00" fill="#ff6c3c"/>
<rect x="393.60" y="837.70" width="28.66" height="26.00" fill="#ff4e1e"/>
<rect x="421.96" y="837.70" width="28.66" height="26.00" fill="#fc9a72"/>
<rect x="450.32" y="837.70" width="28.66" height="26.00" fill="#b6ecec"/>
<rect x="478.68" y="837.70" width="28.66" height="26.00" fill="#eaead4"/>
<rect x="507.04" y="837.70" width="28.66" height="26.00" fill="#fc9a72"/>
<rect x="535.40" y="837.70" width="28.66" height="26.00" fill="#3e6cc8"/>
<rect x="563.76" y="837.70" width="28.66" height="26.00" fill="#d6ede4"/>
<rect x="592.12" y="837.70" width="28.66" height="26.00" fill="#b6ecec"/>
<rect x="620.48" y="837.70" width="28.66" height="26.00" fill="#ff4e1e"/>
<rect x="648.84" y="837.70" width="28.66" height="26.00" fill="#76c7ed"/>
<rect x="677.20" y="837.70" width="28.66" height="26.00" fill="#fad2b4"/>
<rect x="705.56" y="837.70" width="28.66" height="26.00" fill="#fad2b4"/>
<rect x="733.92" y="837.70" width="28.66" height="26.00" fill="#fad2b4"/>
<rect x="762.28" y="837.70" width="28.66" height="26.00" fill="#fcb995"/>
<rect x="790.64" y="837.70" width="28.66" height="26.00" fill="#fad2b4"/>
<rect x="819.00" y="837.70" width="28.66" height="26.00" fill="#fad2b4"/>
<rect x="847.36" y="837.70" width="28.66" height="26.00" fill="#3e6cc8"/>
<rect x="875.72" y="837.70" width="28.66" height="26.00" fill="#fc9a72"/>
<rect x="904.08" y="837.70" width="28.66" height="26.00" fill="#3e6cc8"/>
<rect x="932.44" y="837.70" width="28.66" height="26.00" fill="#3e6cc8"/>
<rect x="960.80" y="837.70" width="28.66" height="26.00" fill="#d6ede4"/>
<rect x="989.16" y="837.70" width="28.66" height="26.00" fill="#020291"/>
<rect x="110.00" y="863.40" width="28.66" height="26.00" fill="#fd8a60"/>
<rect x="138.36" y="863.40" width="28.66" height="26.00" fill="#f8dcc2"/>
<rect x="166.72" y="863.40" width="28.66" height="26.00" fill="#fcaa84"/>
<rect x="195.08" y="863.40" width="28.66" height="26.00" fill="#f8dcc2"/>
<rect x="223.44" y="863.40" width="28.66" height="26.00" fill="#f8dcc2"/>
<rect x="251.80" y="863.40" width="28.66" height="26.00" fill="#64ace4"/>
<rect x="280.16" y="863.40" width="28.66" height="26.00" fill="#f1e3cb"/>
<rect x="308.52" y="863.40" width="28.66" height="26.00" fill="#f1e3cb"/>
<rect x="336.88" y="863.40" width="28.66" height="26.00" fill="#518cd6"/>
<rect x="365.24" y="863.40" width="28.66" height="26.00" fill="#f1e3cb"/>
<rect x="393.60" y="863.40" width="28.66" height="26.00" fill="#f8dcc2"/>
<rect x="421.96" y="863.40" width="28.66" height="26.00" fill="#cdeee6"/>
<rect x="450.32" y="863.40" width="28.66" height="26.00" fill="#f8dcc2"/>
<rect x="478.68" y="863.40" width="28.66" height="26.00" fill="#98e6f3"/>
<rect x="507.04" y="863.40" width="28.66" height="26.00" fill="#76c7ed"/>
<rect x="535.40" y="863.40" width="28.66" height="26.00" fill="#d6ede4"/>
<rect x="563.76" y="863.40" width="28.66" height="26.00" fill="#d6ede4"/>
<rect x="592.12" y="863.40" width="28.66" height="26.00" fill="#c4eee8"/>
<rect x="620.48" y="863.40" width="28.66" height="26.00" fill="#ff4e1e"/>
<rect x="648.84" y="863.40" width="28.66" height="26.00" fill="#f8dcc2"/>
<rect x="677.20" y="863.40" width="28.66" height="26.00" fill="#b6ecec"/>
<rect x="705.56" y="863.40" width="28.66" height="26.00" fill="#b6ecec"/>
<rect x="733.92" y="863.40" width="28.66" height="26.00" fill="#98e6f3"/>
<rect x="762.28" y="863.40" width="28.66" height="26.00" fill="#b6ecec"/>
<rect x="790.64" y="863.40" width="28.66" height="26.00" fill="#a8eaf0"/>
<rect x="819.00" y="863.40" width="28.66" height="26.00" fill="#cdeee6"/>
<rect x="847.36" y="863.40" width="28.66" height="26.00" fill="#d6ede4"/>
<rect x="875.72" y="863.40" width="28.66" height="26.00" fill="#d6ede4"/>
<rect x="904.08" y="863.40" width="28.66" height="26.00" fill="#eaead4"/>
<rect x="932.44" y="863.40" width="28.66" height="26.00" fill="#e0ecdc"/>
<rect x="960.80" y="863.40" width="28.66" height="26.00" fill="#76c7ed"/>
<rect x="989.16" y="863.40" width="28.66" height="26.00" fill="#fad2b4"/>
<rect x="1017.52" y="863.40" width="28.66" height="26.00" fill="#020291"/>
<rect x="110.00" y="889.10" width="28.66" height="26.00" fill="#ff4216"/>
<rect x="138.36" y="889.10" width="28.66" height="26.00" fill="#fc9a72"/>
<rect x="166.72" y="889.10" width="28.66" height="26.00" fill="#ff4216"/>
<rect x="195.08" y="889.10" width="28.66" height="26.00" fill="#fc9a72"/>
<rect x="223.44" y="889.10" width="28.66" height="26.00" fill="#fad2b4"/>
<rect x="251.80" y="889.10" width="28.66" height="26.00" fill="#fad2b4"/>
<rect x="280.16" y="889.10" width="28.66" height="26.00" fill="#fbc8a6"/>
<rect x="308.52" y="889.10" width="28.66" height="26.00" fill="#fbc8a6"/>
<rect x="336.88" y="889.10" width="28.66" height="26.00" fill="#fc9a72"/>
<rect x="365.24" y="889.10" width="28.66" height="26.00" fill="#fcb995"/>
<rect x="393.60" y="889.10" width="28.66" height="26.00" fill="#fc9a72"/>
<rect x="421.96" y="889.10" width="28.66" height="26.00" fill="#f8dcc2"/>
<rect x="450.32" y="889.10" width="28.66" height="26.00" fill="#fd8a60"/>
<rect x="478.68" y="889.10" width="28.66" height="26.00" fill="#cdeee6"/>
<rect x="507.04" y="889.10" width="28.66" height="26.00" fill="#fcb995"/>
<rect x="535.40" y="889.10" width="28.66" height="26.00" fill="#f8dcc2"/>
<rect x="563.76" y="889.10" width="28.66" height="26.00" fill="#f8dcc2"/>
<rect x="592.12" y="889.10" width="28.66" height="26.00" fill="#f1e3cb"/>
<rect x="620.48" y="889.10" width="28.66" height="26.00" fill="#ff370f"/>
<rect x="648.84" y="889.10" width="28.66" height="26.00" fill="#fcb995"/>
<rect x="677.20" y="889.10" width="28.66" height="26.00" fill="#b6ecec"/>
<rect x="705.56" y="889.10" width="28.66" height="26.00" fill="#f8dcc2"/>
<rect x="733.92" y="889.10" width="28.66" height="26.00" fill="#e0ecdc"/>
<rect x="762.28" y="889.10" width="28.66" height="26.00" fill="#cdeee6"/>
<rect x="790.64" y="889.10" width="28.66" height="26.00" fill="#f1e3cb"/>
<rect x="819.00" y="889.10" width="28.66" height="26.00" fill="#e0ecdc"/>
<rect x="847.36" y="889.10" width="28.66" height="26.00" fill="#f8dcc2"/>
<rect x="875.72" y="889.10" width="28.66" height="26.00" fill="#fad2b4"/>
<rect x="904.08" y="889.10" width="28.66" height="26.00" fill="#fe7b4e"/>
<rect x="932.44" y="889.10" width="28.66" height="26.00" fill="#f8dcc2"/>
<rect x="960.80" y="889.10" width="28.66" height="26.00" fill="#a8eaf0"/>
<rect x="989.16" y="889.10" width="28.66" height="26.00" fill="#fe7b4e"/>
<rect x="1017.52" y="889.10" width="28.66" height="26.00" fill="#d6ede4"/>
<rect x="1045.88" y="889.10" width="28.66" height="26.00" fill="#020291"/>
<rect x="110.00" y="914.80" width="28.66" height="26.00" fill="#a8eaf0"/>
<rect x="138.36" y="914.80" width="28.66" height="26.00" fill="#fe7b4e"/>
<rect x="166.72" y="914.80" width="28.66" height="26.00" fill="#64ace4"/>
<rect x="195.08" y="914.80" width="28.66" height="26.00" fill="#fc9a72"/>
<rect x="223.44" y="914.80" width="28.66" height="26.00" fill="#fbc8a6"/>
<rect x="251.80" y="914.80" width="28.66" height="26.00" fill="#f8dcc2"/>
<rect x="280.16" y="914.80" width="28.66" height="26.00" fill="#64ace4"/>
<rect x="308.52" y="914.80" width="28.66" height="26.00" fill="#fbc8a6"/>
<rect x="336.88" y="914.80" width="28.66" height="26.00" fill="#fbc8a6"/>
<rect x="365.24" y="914.80" width="28.66" height="26.00" fill="#fbc8a6"/>
<rect x="393.60" y="914.80" width="28.66" height="26.00" fill="#fc9a72"/>
<rect x="421.96" y="914.80" width="28.66" height="26.00" fill="#f8dcc2"/>
<rect x="450.32" y="914.80" width="28.66" height="26.00" fill="#76c7ed"/>
<rect x="478.68" y="914.80" width="28.66" height="26.00" fill="#cdeee6"/>
<rect x="507.04" y="914.80" width="28.66" height="26.00" fill="#fad2b4"/>
<rect x="535.40" y="914.80" width="28.66" height="26.00" fill="#020291"/>
<rect x="563.76" y="914.80" width="28.66" height="26.00" fill="#b6ecec"/>
<rect x="592.12" y="914.80" width="28.66" height="26.00" fill="#76c7ed"/>
<rect x="620.48" y="914.80" width="28.66" height="26.00" fill="#fc9a72"/>
<rect x="648.84" y="914.80" width="28.66" height="26.00" fill="#3e6cc8"/>
<rect x="677.20" y="914.80" width="28.66" height="26.00" fill="#d6ede4"/>
<rect x="705.56" y="914.80" width="28.66" height="26.00" fill="#d6ede4"/>
<rect x="733.92" y="914.80" width="28.66" height="26.00" fill="#d6ede4"/>
<rect x="762.28" y="914.80" width="28.66" height="26.00" fill="#e0ecdc"/>
<rect x="790.64" y="914.80" width="28.66" height="26.00" fill="#d6ede4"/>
<rect x="819.00" y="914.80" width="28.66" height="26.00" fill="#d6ede4"/>
<rect x="847.36" y="914.80" width="28.66" height="26.00" fill="#020291"/>
<rect x="875.72" y="914.80" width="28.66" height="26.00" fill="#fad2b4"/>
<rect x="904.08" y="914.80" width="28.66" height="26.00" fill="#3e6cc8"/>
<rect x="932.44" y="914.80" width="28.66" height="26.00" fill="#020291"/>
<rect x="960.80" y="914.80" width="28.66" height="26.00" fill="#a8eaf0"/>
<rect x="989.16" y="914.80" width="28.66" height="26.00" fill="#3e6cc8"/>
<rect x="1017.52" y="914.80" width="28.66" height="26.00" fill="#d6ede4"/>
<rect x="1045.88" y="914.80" width="28.66" height="26.00" fill="#fad2b4"/>
<rect x="1074.24" y="914.80" width="28.66" height="26.00" fill="#020291"/>
<rect x="110.00" y="940.50" width="28.66" height="26.00" fill="#f1e3cb"/>
<rect x="138.36" y="940.50" width="28.66" height="26.00" fill="#fbc8a6"/>
<rect x="166.72" y="940.50" width="28.66" height="26.00" fill="#d6ede4"/>
<rect x="195.08" y="940.50" width="28.66" height="26.00" fill="#f8dcc2"/>
<rect x="223.44" y="940.50" width="28.66" height="26.00" fill="#eaead4"/>
<rect x="251.80" y="940.50" width="28.66" height="26.00" fill="#e0ecdc"/>
<rect x="280.16" y="940.50" width="28.66" height="26.00" fill="#e0ecdc"/>
<rect x="308.52" y="940.50" width="28.66" height="26.00" fill="#eaead4"/>
<rect x="336.88" y="940.50" width="28.66" height="26.00" fill="#eaead4"/>
<rect x="365.24" y="940.50" width="28.66" height="26.00" fill="#eaead4"/>
<rect x="393.60" y="940.50" width="28.66" height="26.00" fill="#f1e3cb"/>
<rect x="421.96" y="940.50" width="28.66" height="26.00" fill="#d6ede4"/>
<rect x="450.32" y="940.50" width="28.66" height="26.00" fill="#a8eaf0"/>
<rect x="478.68" y="940.50" width="28.66" height="26.00" fill="#98e6f3"/>
<rect x="507.04" y="940.50" width="28.66" height="26.00" fill="#e0ecdc"/>
<rect x="535.40" y="940.50" width="28.66" height="26.00" fill="#76c7ed"/>
<rect x="563.76" y="940.50" width="28.66" height="26.00" fill="#76c7ed"/>
<rect x="592.12" y="940.50" width="28.66" height="26.00" fill="#3e6cc8"/>
<rect x="620.48" y="940.50" width="28.66" height="26.00" fill="#fad2b4"/>
<rect x="648.84" y="940.50" width="28.66" height="26.00" fill="#a8eaf0"/>
<rect x="677.20" y="940.50" width="28.66" height="26.00" fill="#a8eaf0"/>
<rect x="705.56" y="940.50" width="28.66" height="26.00" fill="#a8eaf0"/>
<rect x="733.92" y="940.50" width="28.66" height="26.00" fill="#a8eaf0"/>
<rect x="762.28" y="940.50" width="28.66" height="26.00" fill="#b6ecec"/>
<rect x="790.64" y="940.50" width="28.66" height="26.00" fill="#a8eaf0"/>
<rect x="819.00" y="940.50" width="28.66" height="26.00" fill="#b6ecec"/>
<rect x="847.36" y="940.50" width="28.66" height="26.00" fill="#76c7ed"/>
<rect x="875.72" y="940.50" width="28.66" height="26.00" fill="#cdeee6"/>
<rect x="904.08" y="940.50" width="28.66" height="26.00" fill="#a8eaf0"/>
<rect x="932.44" y="940.50" width="28.66" height="26.00" fill="#76c7ed"/>
<rect x="960.80" y="940.50" width="28.66" height="26.00" fill="#76c7ed"/>
<rect x="989.16" y="940.50" width="28.66" height="26.00" fill="#a8eaf0"/>
<rect x="1017.52" y="940.50" width="28.66" height="26.00" fill="#a8eaf0"/>
<rect x="1045.88" y="940.50" width="28.66" height="26.00" fill="#cdeee6"/>
<rect x="1074.24" y="940.50" width="28.66" height="26.00" fill="#76c7ed"/>
<rect x="1102.60" y="940.50" width="28.66" height="26.00" fill="#020291"/>
<rect x="110.00" y="966.20" width="28.66" height="26.00" fill="#a8eaf0"/>
<rect x="138.36" y="966.20" width="28.66" height="26.00" fill="#fe7b4e"/>
<rect x="166.72" y="966.20" width="28.66" height="26.00" fill="#64ace4"/>
<rect x="195.08" y="966.20" width="28.66" height="26.00" fill="#fc9a72"/>
<rect x="223.44" y="966.20" width="28.66" height="26.00" fill="#fcb995"/>
<rect x="251.80" y="966.20" width="28.66" height="26.00" fill="#fad2b4"/>
<rect x="280.16" y="966.20" width="28.66" height="26.00" fill="#64ace4"/>
<rect x="308.52" y="966.20" width="28.66" height="26.00" fill="#fbc8a6"/>
<rect x="336.88" y="966.20" width="28.66" height="26.00" fill="#fbc8a6"/>
<rect x="365.24" y="966.20" width="28.66" height="26.00" fill="#fbc8a6"/>
<rect x="393.60" y="966.20" width="28.66" height="26.00" fill="#fc9a72"/>
<rect x="421.96" y="966.20" width="28.66" height="26.00" fill="#fad2b4"/>
<rect x="450.32" y="966.20" width="28.66" height="26.00" fill="#76c7ed"/>
<rect x="478.68" y="966.20" width="28.66" height="26.00" fill="#cdeee6"/>
<rect x="507.04" y="966.20" width="28.66" height="26.00" fill="#fad2b4"/>
<rect x="535.40" y="966.20" width="28.66" height="26.00" fill="#020291"/>
<rect x="563.76" y="966.20" width="28.66" height="26.00" fill="#b6ecec"/>
<rect x="592.12" y="966.20" width="28.66" height="26.00" fill="#76c7ed"/>
<rect x="620.48" y="966.20" width="28.66" height="26.00" fill="#fc9a72"/>
<rect x="648.84" y="966.20" width="28.66" height="26.00" fill="#3e6cc8"/>
<rect x="677.20" y="966.20" width="28.66" height="26.00" fill="#d6ede4"/>
<rect x="705.56" y="966.20" width="28.66" height="26.00" fill="#d6ede4"/>
<rect x="733.92" y="966.20" width="28.66" height="26.00" fill="#d6ede4"/>
<rect x="762.28" y="966.20" width="28.66" height="26.00" fill="#eaead4"/>
<rect x="790.64" y="966.20" width="28.66" height="26.00" fill="#d6ede4"/>
<rect x="819.00" y="966.20" width="28.66" height="26.00" fill="#d6ede4"/>
<rect x="847.36" y="966.20" width="28.66" height="26.00" fill="#020291"/>
<rect x="875.72" y="966.20" width="28.66" height="26.00" fill="#fad2b4"/>
<rect x="904.08" y="966.20" width="28.66" height="26.00" fill="#3e6cc8"/>
<rect x="932.44" y="966.20" width="28.66" height="26.00" fill="#020291"/>
<rect x="960.80" y="966.20" width="28.66" height="26.00" fill="#a8eaf0"/>
<rect x="989.16" y="966.20" width="28.66" height="26.00" fill="#3e6cc8"/>
<rect x="1017.52" y="966.20" width="28.66" height="26.00" fill="#d6ede4"/>
<rect x="1045.88" y="966.20" width="28.66" height="26.00" fill="#fad2b4"/>
<rect x="1074.24" y="966.20" width="28.66" height="26.00" fill="#020291"/>
<rect x="1102.60" y="966.20" width="28.66" height="26.00" fill="#76c7ed"/>
<rect x="1130.96" y="966.20" width="28.66" height="26.00" fill="#020291"/>
<rect x="110.00" y="991.90" width="28.66" height="26.00" fill="#fe7b4e"/>
<rect x="138.36" y="991.90" width="28.66" height="26.00" fill="#f8dcc2"/>
<rect x="166.72" y="991.90" width="28.66" height="26.00" fill="#fcaa84"/>
<rect x="195.08" y="991.90" width="28.66" height="26.00" fill="#f1e3cb"/>
<rect x="223.44" y="991.90" width="28.66" height="26.00" fill="#eaead4"/>
<rect x="251.80" y="991.90" width="28.66" height="26.00" fill="#e0ecdc"/>
<rect x="280.16" y="991.90" width="28.66" height="26.00" fill="#e0ecdc"/>
<rect x="308.52" y="991.90" width="28.66" height="26.00" fill="#eaead4"/>
<rect x="336.88" y="991.90" width="28.66" height="26.00" fill="#eaead4"/>
<rect x="365.24" y="991.90" width="28.66" height="26.00" fill="#f1e3cb"/>
<rect x="393.60" y="991.90" width="28.66" height="26.00" fill="#f8dcc2"/>
<rect x="421.96" y="991.90" width="28.66" height="26.00" fill="#cdeee6"/>
<rect x="450.32" y="991.90" width="28.66" height="26.00" fill="#f8dcc2"/>
<rect x="478.68" y="991.90" width="28.66" height="26.00" fill="#98e6f3"/>
<rect x="507.04" y="991.90" width="28.66" height="26.00" fill="#d6ede4"/>
<rect x="535.40" y="991.90" width="28.66" height="26.00" fill="#d6ede4"/>
<rect x="563.76" y="991.90" width="28.66" height="26.00" fill="#d6ede4"/>
<rect x="592.12" y="991.90" width="28.66" height="26.00" fill="#b6ecec"/>
<rect x="620.48" y="991.90" width="28.66" height="26.00" fill="#ff5d2d"/>
<rect x="648.84" y="991.90" width="28.66" height="26.00" fill="#f8dcc2"/>
<rect x="677.20" y="991.90" width="28.66" height="26.00" fill="#b6ecec"/>
<rect x="705.56" y="991.90" width="28.66" height="26.00" fill="#b6ecec"/>
<rect x="733.92" y="991.90" width="28.66" height="26.00" fill="#98e6f3"/>
<rect x="762.28" y="991.90" width="28.66" height="26.00" fill="#c4eee8"/>
<rect x="790.64" y="991.90" width="28.66" height="26.00" fill="#b6ecec"/>
<rect x="819.00" y="991.90" width="28.66" height="26.00" fill="#cdeee6"/>
<rect x="847.36" y="991.90" width="28.66" height="26.00" fill="#d6ede4"/>
<rect x="875.72" y="991.90" width="28.66" height="26.00" fill="#e0ecdc"/>
<rect x="904.08" y="991.90" width="28.66" height="26.00" fill="#f1e3cb"/>
<rect x="932.44" y="991.90" width="28.66" height="26.00" fill="#e0ecdc"/>
<rect x="960.80" y="991.90" width="28.66" height="26.00" fill="#76c7ed"/>
<rect x="989.16" y="991.90" width="28.66" height="26.00" fill="#fad2b4"/>
<rect x="1017.52" y="991.90" width="28.66" height="26.00" fill="#b6ecec"/>
<rect x="1045.88" y="991.90" width="28.66" height="26.00" fill="#cdeee6"/>
<rect x="1074.24" y="991.90" width="28.66" height="26.00" fill="#cdeee6"/>
<rect x="1102.60" y="991.90" width="28.66" height="26.00" fill="#b6ecec"/>
<rect x="1130.96" y="991.90" width="28.66" height="26.00" fill="#cdeee6"/>
<rect x="1159.32" y="991.90" width="28.66" height="26.00" fill="#020291"/>
<rect x="110.00" y="1017.60" width="28.66" height="26.00" fill="#fc9a72"/>
<rect x="138.36" y="1017.60" width="28.66" height="26.00" fill="#eaead4"/>
<rect x="166.72" y="1017.60" width="28.66" height="26.00" fill="#fbc8a6"/>
<rect x="195.08" y="1017.60" width="28.66" height="26.00" fill="#e0ecdc"/>
<rect x="223.44" y="1017.60" width="28.66" height="26.00" fill="#cdeee6"/>
<rect x="251.80" y="1017.60" width="28.66" height="26.00" fill="#c4eee8"/>
<rect x="280.16" y="1017.60" width="28.66" height="26.00" fill="#cdeee6"/>
<rect x="308.52" y="1017.60" width="28.66" height="26.00" fill="#d6ede4"/>
<rect x="336.88" y="1017.60" width="28.66" height="26.00" fill="#cdeee6"/>
<rect x="365.24" y="1017.60" width="28.66" height="26.00" fill="#d6ede4"/>
<rect x="393.60" y="1017.60" width="28.66" height="26.00" fill="#e0ecdc"/>
<rect x="421.96" y="1017.60" width="28.66" height="26.00" fill="#b6ecec"/>
<rect x="450.32" y="1017.60" width="28.66" height="26.00" fill="#f1e3cb"/>
<rect x="478.68" y="1017.60" width="28.66" height="26.00" fill="#76c7ed"/>
<rect x="507.04" y="1017.60" width="28.66" height="26.00" fill="#cdeee6"/>
<rect x="535.40" y="1017.60" width="28.66" height="26.00" fill="#cdeee6"/>
<rect x="563.76" y="1017.60" width="28.66" height="26.00" fill="#cdeee6"/>
<rect x="592.12" y="1017.60" width="28.66" height="26.00" fill="#a8eaf0"/>
<rect x="620.48" y="1017.60" width="28.66" height="26.00" fill="#ff6c3c"/>
<rect x="648.84" y="1017.60" width="28.66" height="26.00" fill="#f1e3cb"/>
<rect x="677.20" y="1017.60" width="28.66" height="26.00" fill="#98e6f3"/>
<rect x="705.56" y="1017.60" width="28.66" height="26.00" fill="#98e6f3"/>
<rect x="733.92" y="1017.60" width="28.66" height="26.00" fill="#76c7ed"/>
<rect x="762.28" y="1017.60" width="28.66" height="26.00" fill="#b6ecec"/>
<rect x="790.64" y="1017.60" width="28.66" height="26.00" fill="#98e6f3"/>
<rect x="819.00" y="1017.60" width="28.66" height="26.00" fill="#b6ecec"/>
<rect x="847.36" y="1017.60" width="28.66" height="26.00" fill="#cdeee6"/>
<rect x="875.72" y="1017.60" width="28.66" height="26.00" fill="#cdeee6"/>
<rect x="904.08" y="1017.60" width="28.66" height="26.00" fill="#d6ede4"/>
<rect x="932.44" y="1017.60" width="28.66" height="26.00" fill="#c4eee8"/>
<rect x="960.80" y="1017.60" width="28.66" height="26.00" fill="#518cd6"/>
<rect x="989.16" y="1017.60" width="28.66" height="26.00" fill="#f1e3cb"/>
<rect x="1017.52" y="1017.60" width="28.66" height="26.00" fill="#98e6f3"/>
<rect x="1045.88" y="1017.60" width="28.66" height="26.00" fill="#c4eee8"/>
<rect x="1074.24" y="1017.60" width="28.66" height="26.00" fill="#b6ecec"/>
<rect x="1102.60" y="1017.60" width="28.66" height="26.00" fill="#98e6f3"/>
<rect x="1130.96" y="1017.60" width="28.66" height="26.00" fill="#c4eee8"/>
<rect x="1159.32" y="1017.60" width="28.66" height="26.00" fill="#98e6f3"/>
<rect x="1187.68" y="1017.60" width="28.66" height="26.00" fill="#020291"/>
<rect x="110.00" y="1043.30" width="28.66" height="26.00" fill="#fcb995"/>
<rect x="138.36" y="1043.30" width="28.66" height="26.00" fill="#d6ede4"/>
<rect x="166.72" y="1043.30" width="28.66" height="26.00" fill="#f8dcc2"/>
<rect x="195.08" y="1043.30" width="28.66" height="26.00" fill="#d6ede4"/>
<rect x="223.44" y="1043.30" width="28.66" height="26.00" fill="#cdeee6"/>
<rect x="251.80" y="1043.30" width="28.66" height="26.00" fill="#b6ecec"/>
<rect x="280.16" y="1043.30" width="28.66" height="26.00" fill="#c4eee8"/>
<rect x="308.52" y="1043.30" width="28.66" height="26.00" fill="#cdeee6"/>
<rect x="336.88" y="1043.30" width="28.66" height="26.00" fill="#f1e3cb"/>
<rect x="365.24" y="1043.30" width="28.66" height="26.00" fill="#cdeee6"/>
<rect x="393.60" y="1043.30" width="28.66" height="26.00" fill="#d6ede4"/>
<rect x="421.96" y="1043.30" width="28.66" height="26.00" fill="#98e6f3"/>
<rect x="450.32" y="1043.30" width="28.66" height="26.00" fill="#eaead4"/>
<rect x="478.68" y="1043.30" width="28.66" height="26.00" fill="#98e6f3"/>
<rect x="507.04" y="1043.30" width="28.66" height="26.00" fill="#d6ede4"/>
<rect x="535.40" y="1043.30" width="28.66" height="26.00" fill="#d6ede4"/>
<rect x="563.76" y="1043.30" width="28.66" height="26.00" fill="#d6ede4"/>
<rect x="592.12" y="1043.30" width="28.66" height="26.00" fill="#a8eaf0"/>
<rect x="620.48" y="1043.30" width="28.66" height="26.00" fill="#ff5d2d"/>
<rect x="648.84" y="1043.30" width="28.66" height="26.00" fill="#f1e3cb"/>
<rect x="677.20" y="1043.30" width="28.66" height="26.00" fill="#a8eaf0"/>
<rect x="705.56" y="1043.30" width="28.66" height="26.00" fill="#a8eaf0"/>
<rect x="733.92" y="1043.30" width="28.66" height="26.00" fill="#98e6f3"/>
<rect x="762.28" y="1043.30" width="28.66" height="26.00" fill="#c4eee8"/>
<rect x="790.64" y="1043.30" width="28.66" height="26.00" fill="#b6ecec"/>
<rect x="819.00" y="1043.30" width="28.66" height="26.00" fill="#c4eee8"/>
<rect x="847.36" y="1043.30" width="28.66" height="26.00" fill="#d6ede4"/>
<rect x="875.72" y="1043.30" width="28.66" height="26.00" fill="#d6ede4"/>
<rect x="904.08" y="1043.30" width="28.66" height="26.00" fill="#f1e3cb"/>
<rect x="932.44" y="1043.30" width="28.66" height="26.00" fill="#cdeee6"/>
<rect x="960.80" y="1043.30" width="28.66" height="26.00" fill="#76c7ed"/>
<rect x="989.16" y="1043.30" width="28.66" height="26.00" fill="#fad2b4"/>
<rect x="1017.52" y="1043.30" width="28.66" height="26.00" fill="#a8eaf0"/>
<rect x="1045.88" y="1043.30" width="28.66" height="26.00" fill="#cdeee6"/>
<rect x="1074.24" y="1043.30" width="28.66" height="26.00" fill="#c4eee8"/>
<rect x="1102.60" y="1043.30" width="28.66" height="26.00" fill="#b6ecec"/>
<rect x="1130.96" y="1043.30" width="28.66" height="26.00" fill="#cdeee6"/>
<rect x="1159.32" y="1043.30" width="28.66" height="26.00" fill="#a8eaf0"/>
<rect x="1187.68" y="1043.30" width="28.66" height="26.00" fill="#a8eaf0"/>
<rect x="1216.04" y="1043.30" width="28.66" height="26.00" fill="#020291"/>
</g>
<g>
<rect x="103" y="52.95" width="6.5" height="1.8" fill="#444"/>
<text x="97.9" y="60.45" font-size="18" text-anchor="end" textLength="84.3" lengthAdjust="spacing">VSP7837</text>
<rect x="103" y="78.65" width="6.5" height="1.8" fill="#444"/>
<text x="97.9" y="86.15" font-size="18" text-anchor="end" textLength="84.3" lengthAdjust="spacing">VSP7770</text>
<rect x="103" y="104.35" width="6.5" height="1.8" fill="#444"/>
<text x="97.9" y="111.85" font-size="18" text-anchor="end" textLength="84.3" lengthAdjust="spacing">VSP7727</text>
<rect x="103" y="130.05" width="6.5" height="1.8" fill="#444"/>
<text x="97.9" y="137.55" font-size="18" text-anchor="end" textLength="84.3" lengthAdjust="spacing">VSP7707</text>
<rect x="103" y="155.75" width="6.5" height="1.8" fill="#444"/>
<text x="97.9" y="163.25" font-size="18" text-anchor="end" textLength="84.3" lengthAdjust="spacing">VSP7626</text>
<rect x="103" y="181.45" width="6.5" height="1.8" fill="#444"/>
<text x="97.9" y="188.95" font-size="18" text-anchor="end" textLength="84.3" lengthAdjust="spacing">VSP7573</text>
<rect x="103" y="207.15" width="6.5" height="1.8" fill="#444"/>
<text x="97.9" y="214.65" font-size="18" text-anchor="end" textLength="84.3" lengthAdjust="spacing">VSP7506</text>
<rect x="103" y="232.85" width="6.5" height="1.8" fill="#444"/>
<text x="97.9" y="240.35" font-size="18" text-anchor="end" textLength="84.3" lengthAdjust="spacing">VSP7446</text>
<rect x="103" y="258.55" width="6.5" height="1.8" fill="#444"/>
<text x="97.9" y="266.05" font-size="18" text-anchor="end" textLength="84.3" lengthAdjust="spacing">VSP7358</text>
<rect x="103" y="284.25" width="6.5" height="1.8" fill="#444"/>
<text x="97.9" y="291.75" font-size="18" text-anchor="end" textLength="84.3" lengthAdjust="spacing">VSP7176</text>
<rect x="103" y="309.95" width="6.5" height="1.8" fill="#444"/>
<text x="97.9" y="317.45" font-size="18" text-anchor="end" textLength="84.3" lengthAdjust="spacing">VSP7139</text>
<rect x="103" y="335.65" width="6.5" height="1.8" fill="#444"/>
<text x="97.9" y="343.15" font-size="18" text-anchor="end" textLength="84.3" lengthAdjust="spacing">VSP7059</text>
<rect x="103" y="361.35" width="6.5" height="1.8" fill="#444"/>
<text x="97.9" y="368.85" font-size="18" text-anchor="end" textLength="84.3" lengthAdjust="spacing">VSP7014</text>
<rect x="103" y="387.05" width="6.5" height="1.8" fill="#444"/>
<text x="97.9" y="394.55" font-size="18" text-anchor="end" textLength="84.3" lengthAdjust="spacing">VSP6878</text>
<rect x="103" y="412.75" width="6.5" height="1.8" fill="#444"/>
<text x="97.9" y="420.25" font-size="18" text-anchor="end" textLength="84.3" lengthAdjust="spacing">VSP6835</text>
<rect x="103" y="438.45" width="6.5" height="1.8" fill="#444"/>
<text x="97.9" y="445.95" font-size="18" text-anchor="end" textLength="84.3" lengthAdjust="spacing">VSP6670</text>
<rect x="103" y="464.15" width="6.5" height="1.8" fill="#444"/>
<text x="97.9" y="471.65" font-size="18" text-anchor="end" textLength="84.3" lengthAdjust="spacing">VSP6618</text>
<rect x="103" y="489.85" width="6.5" height="1.8" fill="#444"/>
<text x="97.9" y="497.35" font-size="18" text-anchor="end" textLength="84.3" lengthAdjust="spacing">VSP6613</text>
<rect x="103" y="515.55" width="6.5" height="1.8" fill="#444"/>
<text x="97.9" y="523.05" font-size="18" text-anchor="end" textLength="84.3" lengthAdjust="spacing">VSP6500</text>
<rect x="103" y="541.25" width="6.5" height="1.8" fill="#444"/>
<text x="97.9" y="548.75" font-size="18" text-anchor="end" textLength="84.3" lengthAdjust="spacing">VSP6383</text>
<rect x="103" y="566.95" width="6.5" height="1.8" fill="#444"/>
<text x="97.9" y="574.45" font-size="18" text-anchor="end" textLength="84.3" lengthAdjust="spacing">VSP6323</text>
<rect x="103" y="592.65" width="6.5" height="1.8" fill="#444"/>
<text x="97.9" y="600.15" font-size="18" text-anchor="end" textLength="84.3" lengthAdjust="spacing">VSP6286</text>
<rect x="103" y="618.35" width="6.5" height="1.8" fill="#444"/>
<text x="97.9" y="625.85" font-size="18" text-anchor="end" textLength="84.3" lengthAdjust="spacing">VSP6135</text>
<rect x="103" y="644.05" width="6.5" height="1.8" fill="#444"/>
<text x="97.9" y="651.55" font-size="18" text-anchor="end" textLength="84.3" lengthAdjust="spacing">VSP6106</text>
<rect x="103" y="669.75" width="6.5" height="1.8" fill="#444"/>
<text x="97.9" y="677.25" font-size="18" text-anchor="end" textLength="84.3" lengthAdjust="spacing">VSP6043</text>
<rect x="103" y="695.45" width="6.5" height="1.8" fill="#444"/>
<text x="97.9" y="702.95" font-size="18" text-anchor="end" textLength="84.3" lengthAdjust="spacing">VSP5949</text>
<rect x="103" y="721.15" width="6.5" height="1.8" fill="#444"/>
<text x="97.9" y="728.65" font-size="18" text-anchor="end" textLength="84.3" lengthAdjust="spacing">VSP5935</text>
<rect x="103" y="746.85" width="6.5" height="1.8" fill="#444"/>
<text x="97.9" y="754.35" font-size="18" text-anchor="end" textLength="84.3" lengthAdjust="spacing">VSP5724</text>
<rect x="103" y="772.55" width="6.5" height="1.8" fill="#444"/>
<text x="97.9" y="780.05" font-size="18" text-anchor="end" textLength="84.3" lengthAdjust="spacing">VSP5684</text>
<rect x="103" y="798.25" width="6.5" height="1.8" fill="#444"/>
<text x="97.9" y="805.75" font-size="18" text-anchor="end" textLength="84.3" lengthAdjust="spacing">VSP5671</text>
<rect x="103" y="823.95" width="6.5" height="1.8" fill="#444"/>
<text x="97.9" y="831.45" font-size="18" text-anchor="end" textLength="84.3" lengthAdjust="spacing">VSP5653</text>
<rect x="103" y="849.65" width="6.5" height="1.8" fill="#444"/>
<text x="97.9" y="857.15" font-size="18" text-anchor="end" textLength="84.3" lengthAdjust="spacing">VSP5630</text>
<rect x="103" y="875.35" width="6.5" height="1.8" fill="#444"/>
<text x="97.9" y="882.85" font-size="18" text-anchor="end" textLength="84.3" lengthAdjust="spacing">VSP5544</text>
<rect x="103" y="901.05" width="6.5" height="1.8" fill="#444"/>
<text x="97.9" y="908.55" font-size="18" text-anchor="end" textLength="84.3" lengthAdjust="spacing">VSP5512</text>
<rect x="103" y="926.75" width="6.5" height="1.8" fill="#444"/>
<text x="97.9" y="934.25" font-size="18" text-anchor="end" textLength="84.3" lengthAdjust="spacing">VSP5461</text>
<rect x="103" y="952.45" width="6.5" height="1.8" fill="#444"/>
<text x="97.9" y="959.95" font-size="18" text-anchor="end" textLength="84.3" lengthAdjust="spacing">VSP5436</text>
<rect x="103" y="978.15" width="6.5" height="1.8" fill="#444"/>
<text x="97.9" y="985.65" font-size="18" text-anchor="end" textLength="84.3" lengthAdjust="spacing">VSP5386</text>
<rect x="103" y="1003.85" width="6.5" height="1.8" fill="#444"/>
<text x="97.9" y="1011.35" font-size="18" text-anchor="end" textLength="84.3" lengthAdjust="spacing">VSP5247</text>
<rect x="103" y="1029.55" width="6.5" height="1.8" fill="#444"/>
<text x="97.9" y="1037.05" font-size="18" text-anchor="end" textLength="84.3" lengthAdjust="spacing">VSP5170</text>
<rect x="103" y="1055.25" width="6.5" height="1.8" fill="#444"/>
<text x="99.0" y="1062.75" font-size="18" text-anchor="end" textLength="96.3" lengthAdjust="spacing">VSP3509*</text>
</g>
<g>
<rect x="123.28" y="1069.7" width="1.8" height="7.5" fill="#444"/>
<text transform="translate(124.18,1083.2) rotate(90)" x="0" y="6.6" font-size="18" textLength="84.3" lengthAdjust="spacing">VSP7837</text>
<rect x="151.64" y="1069.7" width="1.8" height="7.5" fill="#444"/>
<text transform="translate(152.54,1083.2) rotate(90)" x="0" y="6.6" font-size="18" textLength="84.3" lengthAdjust="spacing">VSP7770</text>
<rect x="180.00" y="1069.7" width="1.8" height="7.5" fill="#444"/>
<text transform="translate(180.90,1083.2) rotate(90)" x="0" y="6.6" font-size="18" textLength="84.3" lengthAdjust="spacing">VSP7727</text>
<rect x="208.36" y="1069.7" width="1.8" height="7.5" fill="#444"/>
<text transform="translate(209.26,1083.2) rotate(90)" x="0" y="6.6" font-size="18" textLength="84.3" lengthAdjust="spacing">VSP7707</text>
<rect x="236.72" y="1069.7" width="1.8" height="7.5" fill="#444"/>
<text transform="translate(237.62,1083.2) rotate(90)" x="0" y="6.6" font-size="18" textLength="84.3" lengthAdjust="spacing">VSP7626</text>
<rect x="265.08" y="1069.7" width="1.8" height="7.5" fill="#444"/>
<text transform="translate(265.98,1083.2) rotate(90)" x="0" y="6.6" font-size="18" textLength="84.3" lengthAdjust="spacing">VSP7573</text>
<rect x="293.44" y="1069.7" width="1.8" height="7.5" fill="#444"/>
<text transform="translate(294.34,1083.2) rotate(90)" x="0" y="6.6" font-size="18" textLength="84.3" lengthAdjust="spacing">VSP7506</text>
<rect x="321.80" y="1069.7" width="1.8" height="7.5" fill="#444"/>
<text transform="translate(322.70,1083.2) rotate(90)" x="0" y="6.6" font-size="18" textLength="84.3" lengthAdjust="spacing">VSP7446</text>
<rect x="350.16" y="1069.7" width="1.8" height="7.5" fill="#444"/>
<text transform="translate(351.06,1083.2) rotate(90)" x="0" y="6.6" font-size="18" textLength="84.3" lengthAdjust="spacing">VSP7358</text>
<rect x="378.52" y="1069.7" width="1.8" height="7.5" fill="#444"/>
<text transform="translate(379.42,1083.2) rotate(90)" x="0" y="6.6" font-size="18" textLength="84.3" lengthAdjust="spacing">VSP7176</text>
<rect x="406.88" y="1069.7" width="1.8" height="7.5" fill="#444"/>
<text transform="translate(407.78,1083.2) rotate(90)" x="0" y="6.6" font-size="18" textLength="84.3" lengthAdjust="spacing">VSP7139</text>
<rect x="435.24" y="1069.7" width="1.8" height="7.5" fill="#444"/>
<text transform="translate(436.14,1083.2) rotate(90)" x="0" y="6.6" font-size="18" textLength="84.3" lengthAdjust="spacing">VSP7059</text>
<rect x="463.60" y="1069.7" width="1.8" height="7.5" fill="#444"/>
<text transform="translate(464.50,1083.2) rotate(90)" x="0" y="6.6" font-size="18" textLength="84.3" lengthAdjust="spacing">VSP7014</text>
<rect x="491.96" y="1069.7" width="1.8" height="7.5" fill="#444"/>
<text transform="translate(492.86,1083.2) rotate(90)" x="0" y="6.6" font-size="18" textLength="84.3" lengthAdjust="spacing">VSP6878</text>
<rect x="520.32" y="1069.7" width="1.8" height="7.5" fill="#444"/>
<text transform="translate(521.22,1083.2) rotate(90)" x="0" y="6.6" font-size="18" textLength="84.3" lengthAdjust="spacing">VSP6835</text>
<rect x="548.68" y="1069.7" width="1.8" height="7.5" fill="#444"/>
<text transform="translate(549.58,1083.2) rotate(90)" x="0" y="6.6" font-size="18" textLength="84.3" lengthAdjust="spacing">VSP6670</text>
<rect x="577.04" y="1069.7" width="1.8" height="7.5" fill="#444"/>
<text transform="translate(577.94,1083.2) rotate(90)" x="0" y="6.6" font-size="18" textLength="84.3" lengthAdjust="spacing">VSP6618</text>
<rect x="605.40" y="1069.7" width="1.8" height="7.5" fill="#444"/>
<text transform="translate(606.30,1083.2) rotate(90)" x="0" y="6.6" font-size="18" textLength="84.3" lengthAdjust="spacing">VSP6613</text>
<rect x="633.76" y="1069.7" width="1.8" height="7.5" fill="#444"/>
<text transform="translate(634.66,1083.2) rotate(90)" x="0" y="6.6" font-size="18" textLength="84.3" lengthAdjust="spacing">VSP6500</text>
<rect x="662.12" y="1069.7" width="1.8" height="7.5" fill="#444"/>
<text transform="translate(663.02,1083.2) rotate(90)" x="0" y="6.6" font-size="18" textLength="84.3" lengthAdjust="spacing">VSP6383</text>
<rect x="690.48" y="1069.7" width="1.8" height="7.5" fill="#444"/>
<text transform="translate(691.38,1083.2) rotate(90)" x="0" y="6.6" font-size="18" textLength="84.3" lengthAdjust="spacing">VSP6323</text>
<rect x="718.84" y="1069.7" width="1.8" height="7.5" fill="#444"/>
<text transform="translate(719.74,1083.2) rotate(90)" x="0" y="6.6" font-size="18" textLength="84.3" lengthAdjust="spacing">VSP6286</text>
<rect x="747.20" y="1069.7" width="1.8" height="7.5" fill="#444"/>
<text transform="translate(748.10,1083.2) rotate(90)" x="0" y="6.6" font-size="18" textLength="84.3" lengthAdjust="spacing">VSP6135</text>
<rect x="775.56" y="1069.7" width="1.8" height="7.5" fill="#444"/>
<text transform="translate(776.46,1083.2) rotate(90)" x="0" y="6.6" font-size="18" textLength="84.3" lengthAdjust="spacing">VSP6106</text>
<rect x="803.92" y="1069.7" width="1.8" height="7.5" fill="#444"/>
<text transform="translate(804.82,1083.2) rotate(90)" x="0" y="6.6" font-size="18" textLength="84.3" lengthAdjust="spacing">VSP6043</text>
<rect x="832.28" y="1069.7" width="1.8" height="7.5" fill="#444"/>
<text transform="translate(833.18,1083.2) rotate(90)" x="0" y="6.6" font-size="18" textLength="84.3" lengthAdjust="spacing">VSP5949</text>
<rect x="860.64" y="1069.7" width="1.8" height="7.5" fill="#444"/>
<text transform="translate(861.54,1083.2) rotate(90)" x="0" y="6.6" font-size="18" textLength="84.3" lengthAdjust="spacing">VSP5935</text>
<rect x="889.00" y="1069.7" width="1.8" height="7.5" fill="#444"/>
<text transform="translate(889.90,1083.2) rotate(90)" x="0" y="6.6" font-size="18" textLength="84.3" lengthAdjust="spacing">VSP5724</text>
<rect x="917.36" y="1069.7" width="1.8" height="7.5" fill="#444"/>
<text transform="translate(918.26,1083.2) rotate(90)" x="0" y="6.6" font-size="18" textLength="84.3" lengthAdjust="spacing">VSP5684</text>
<rect x="945.72" y="1069.7" width="1.8" height="7.5" fill="#444"/>
<text transform="translate(946.62,1083.2) rotate(90)" x="0" y="6.6" font-size="18" textLength="84.3" lengthAdjust="spacing">VSP5671</text>
<rect x="974.08" y="1069.7" width="1.8" height="7.5" fill="#444"/>
<text transform="translate(974.98,1083.2) rotate(90)" x="0" y="6.6" font-size="18" textLength="84.3" lengthAdjust="spacing">VSP5653</text>
<rect x="1002.44" y="1069.7" width="1.8" height="7.5" fill="#444"/>
<text transform="translate(1003.34,1083.2) rotate(90)" x="0" y="6.6" font-size="18" textLength="84.3" lengthAdjust="spacing">VSP5630</text>
<rect x="1030.80" y="1069.7" width="1.8" height="7.5" fill="#444"/>
<text transform="translate(1031.70,1083.2) rotate(90)" x="0" y="6.6" font-size="18" textLength="84.3" lengthAdjust="spacing">VSP5544</text>
<rect x="1059.16" y="1069.7" width="1.8" height="7.5" fill="#444"/>
<text transform="translate(1060.06,1083.2) rotate(90)" x="0" y="6.6" font-size="18" textLength="84.3" lengthAdjust="spacing">VSP5512</text>
<rect x="1087.52" y="1069.7" width="1.8" height="7.5" fill="#444"/>
<text transform="translate(1088.42,1083.2) rotate(90)" x="0" y="6.6" font-size="18" textLength="84.3" lengthAdjust="spacing">VSP5461</text>
<rect x="1115.88" y="1069.7" width="1.8" height="7.5" fill="#444"/>
<text transform="translate(1116.78,1083.2) rotate(90)" x="0" y="6.6" font-size="18" textLength="84.3" lengthAdjust="spacing">VSP5436</text>
<rect x="1144.24" y="1069.7" width="1.8" height="7.5" fill="#444"/>
<text transform="translate(1145.14,1083.2) rotate(90)" x="0" y="6.6" font-size="18" textLength="84.3" lengthAdjust="spacing">VSP5386</text>
<rect x="1172.60" y="1069.7" width="1.8" height="7.5" fill="#444"/>
<text transform="translate(1173.50,1083.2) rotate(90)" x="0" y="6.6" font-size="18" textLength="84.3" lengthAdjust="spacing">VSP5247</text>
<rect x="1200.96" y="1069.7" width="1.8" height="7.5" fill="#444"/>
<text transform="translate(1201.86,1083.2) rotate(90)" x="0" y="6.6" font-size="18" textLength="84.3" lengthAdjust="spacing">VSP5170</text>
<rect x="1229.32" y="1069.7" width="1.8" height="7.5" fill="#444"/>
<text transform="translate(1230.22,1083.2) rotate(90)" x="0" y="6.6" font-size="18" textLength="96.3" lengthAdjust="spacing">VSP3509*</text>
</g>
<rect x="1137.3" y="86.8" width="43" height="437.8" fill="url(#cb)"/>
<rect x="1180.3" y="86.15" width="7" height="1.3" fill="#444"/>
<text x="1188" y="94.00" font-size="17">25</text>
<rect x="1180.3" y="173.71" width="7" height="1.3" fill="#444"/>
<text x="1188" y="181.56" font-size="17">20</text>
<rect x="1180.3" y="261.27" width="7" height="1.3" fill="#444"/>
<text x="1188" y="269.12" font-size="17">15</text>
<rect x="1180.3" y="348.83" width="7" height="1.3" fill="#444"/>
<text x="1188" y="356.68" font-size="17">10</text>
<rect x="1180.3" y="436.39" width="7" height="1.3" fill="#444"/>
<text x="1188" y="444.24" font-size="17">5</text>
<rect x="1180.3" y="523.95" width="7" height="1.3" fill="#444"/>
<text x="1188" y="531.80" font-size="17">0</text>
<text x="1140.2" y="48.4" font-size="18" textLength="11.5" lengthAdjust="spacingAndGlyphs">#</text>
<text x="1162.1" y="48.4" font-size="18" textLength="36.6" lengthAdjust="spacingAndGlyphs">SNP</text>
<text x="1139.1" y="70.3" font-size="18" textLength="106" lengthAdjust="spacingAndGlyphs">Differences</text>
<polyline points="141.9,24.4 151.9,11.9 1249.8,991.4 1239,1003" fill="none" stroke="#1a1a1a" stroke-width="2.5" stroke-linejoin="miter"/>
<line x1="846.7" y1="486.3" x2="775" y2="569" stroke="#1a1a1a" stroke-width="2.3"/>
<path fill="#000" d="M857.1,157.9 C858.7,158.1 864.0,157.9 866.5,158.8 C869.0,159.7 871.0,161.5 872.2,163.5 C873.4,165.5 873.6,168.8 873.8,171.0 C874.0,173.2 873.9,174.6 873.6,177.0 C873.3,179.4 872.9,183.0 872.1,185.7 C871.3,188.3 869.8,190.9 868.6,192.9 C867.4,194.9 865.5,196.0 865.0,197.5 C864.5,199.0 865.2,200.3 865.8,202.0 C866.4,203.7 868.0,206.6 868.5,207.5 C870.4,208.0 876.8,209.2 880.0,210.7 C883.2,212.2 885.9,214.0 887.9,216.5 C889.9,219.0 890.6,221.5 892.1,225.7 C893.6,229.8 895.8,235.9 897.1,241.4 C898.4,246.9 899.8,254.1 900.0,258.6 C900.2,263.1 899.8,265.5 898.6,268.6 C897.4,271.7 895.3,274.2 892.9,277.1 C890.5,280.0 886.3,283.3 884.3,285.7 C882.3,288.1 881.4,289.0 881.0,291.4 C880.6,293.8 881.7,298.6 881.8,300.0 C883.8,312.0 890.0,348.5 894.0,372.0 C898.0,395.5 902.4,425.4 906.0,440.9 C909.6,456.4 914.2,461.1 915.9,465.2 L884.8,465.2 C883.3,458.8 878.5,439.4 876.0,427.0 C873.5,414.6 872.2,402.7 869.7,390.9 C867.2,379.1 863.0,362.7 861.0,356.0 C859.0,349.3 858.1,351.4 857.5,350.5 C857.1,351.1 856.1,349.8 855.2,354.0 C854.3,358.2 852.9,367.3 852.3,375.8 C851.7,384.3 851.9,396.2 851.5,405.0 C851.1,413.8 850.8,421.3 850.0,428.8 C849.2,436.3 848.0,444.0 847.0,450.0 C846.0,456.0 844.4,462.3 843.9,464.8 L808.3,465.2 C808.6,464.2 808.8,461.1 810.0,459.0 C811.2,456.9 813.6,454.8 815.5,452.5 C817.4,450.2 820.0,448.2 821.2,445.5 C822.4,442.8 822.4,444.0 822.7,436.4 C823.1,428.8 823.0,412.6 823.3,400.0 C823.5,387.4 823.8,373.1 824.2,360.6 C824.7,348.1 825.2,335.1 826.0,325.0 C826.8,314.9 828.3,304.2 828.8,300.0 C828.9,297.6 829.6,288.8 829.3,285.7 C829.0,282.6 828.4,283.5 827.1,281.4 C825.8,279.3 822.8,276.0 821.4,272.9 C820.0,269.8 819.0,266.7 818.6,262.9 C818.2,259.1 818.5,254.3 819.3,250.0 C820.1,245.7 822.2,241.2 823.6,237.1 C825.0,233.0 826.7,229.0 827.9,225.7 C829.1,222.4 829.2,219.5 830.7,217.1 C832.2,214.7 833.9,213.1 837.1,211.4 C840.3,209.7 847.2,208.2 850.0,207.1 C852.8,206.0 853.3,205.3 854.0,205.0 C853.6,204.7 852.8,204.2 851.4,202.9 C850.0,201.6 847.2,199.2 845.7,197.1 C844.2,194.9 842.8,193.1 842.1,190.0 C841.4,186.9 841.4,182.1 841.4,178.6 C841.4,175.1 841.6,171.7 842.0,169.0 C842.4,166.3 842.7,164.2 843.8,162.5 C844.9,160.8 846.3,159.8 848.5,159.0 C850.7,158.2 855.7,158.1 857.1,157.9 Z"/>
<path fill="#fff" d="M878.0,241.5 C877.4,242.9 875.2,247.1 874.5,250.0 C873.8,252.9 873.7,255.5 873.6,259.0 C873.5,262.5 873.4,267.1 874.0,271.0 C874.6,274.9 875.9,281.7 877.1,282.5 C878.4,283.3 880.1,278.9 881.5,276.0 C882.9,273.1 885.0,269.0 885.5,265.0 C886.0,261.0 885.8,255.9 884.5,252.0 C883.2,248.1 879.1,243.2 878.0,241.5 Z"/>
<rect x="831.6" y="255.7" width="3" height="15.5" fill="#fff"/>
<path fill="#000" d="M1234.8,791.7 C1235.6,792.1 1237.9,793.4 1239.5,794.3 C1241.1,795.2 1243.7,796.8 1244.5,797.3 C1245.6,796.8 1248.8,795.4 1251.0,794.5 C1253.2,793.6 1256.6,792.6 1257.7,792.2 C1257.6,793.9 1256.8,798.9 1257.1,802.3 C1257.4,805.7 1259.8,809.8 1259.7,812.5 C1259.6,815.2 1257.4,816.4 1256.6,818.6 C1255.8,820.8 1255.1,823.1 1254.6,825.7 C1254.1,828.3 1253.9,831.5 1253.6,834.0 C1253.3,836.5 1253.6,837.8 1252.6,841.0 C1251.6,844.2 1249.0,849.4 1247.5,853.1 C1246.0,856.8 1244.2,859.2 1243.4,863.3 C1242.6,867.4 1242.0,874.5 1242.4,877.5 C1242.8,880.5 1245.8,880.4 1246.0,881.6 C1246.2,882.8 1246.7,883.6 1243.4,884.6 C1240.1,885.6 1233.3,887.5 1226.2,887.7 C1219.1,887.9 1208.4,886.8 1200.8,885.6 C1193.2,884.4 1186.4,882.0 1180.5,880.5 C1174.6,879.0 1168.4,878.9 1165.2,876.5 C1162.0,874.1 1161.5,870.2 1161.2,866.3 C1160.9,862.4 1161.7,857.3 1163.2,853.1 C1164.7,848.9 1167.8,844.4 1170.3,841.0 C1172.8,837.6 1177.1,834.2 1178.4,832.8 L1180.8,834.8 C1179.7,836.5 1176.2,841.3 1174.4,845.0 C1172.6,848.7 1170.5,853.5 1169.8,857.2 C1169.1,860.9 1169.2,864.8 1170.3,867.3 C1171.4,869.8 1174.4,871.7 1176.4,872.4 C1178.4,873.1 1181.3,874.9 1182.5,871.4 C1183.7,867.9 1182.2,857.2 1183.5,851.1 C1184.8,845.0 1187.4,839.2 1190.6,834.8 C1193.8,830.4 1197.7,827.1 1202.8,824.7 C1207.9,822.3 1216.7,822.5 1221.1,820.6 C1225.5,818.7 1227.2,816.9 1229.2,813.5 C1231.2,810.1 1232.4,803.9 1233.3,800.3 C1234.2,796.7 1234.5,793.1 1234.8,791.7 Z"/>
<path d="M1244.5,890.6 C1262,906 1272,930 1270.5,955 C1269,985 1257,1010 1245,1026" fill="none" stroke="#222" stroke-width="1.8"/>
<path d="M1239.7,1034.9 L1242.2,1024.3 L1250.3,1028.9 Z" fill="#111"/>
</svg></body></html>
